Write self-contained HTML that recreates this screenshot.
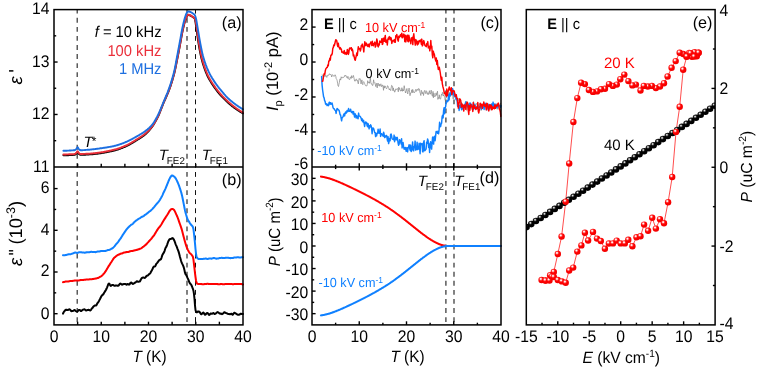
<!DOCTYPE html>
<html><head><meta charset="utf-8"><title>figure</title>
<style>html,body{margin:0;padding:0;background:#fff}svg{display:block;opacity:0.999;will-change:transform}</style>
</head><body>
<svg width="760" height="370" viewBox="0 0 760 370" text-rendering="geometricPrecision" font-family='"Liberation Sans", sans-serif'>
<rect width="760" height="370" fill="#fff"/>
<defs>
<radialGradient id="gr" cx="0.37" cy="0.33" r="0.68"><stop offset="0" stop-color="#ffffff"/><stop offset="0.13" stop-color="#ffe4e4"/><stop offset="0.32" stop-color="#ff4040"/><stop offset="0.52" stop-color="#ff0000"/><stop offset="1" stop-color="#f00000"/></radialGradient>
<radialGradient id="gk" cx="0.36" cy="0.32" r="0.68"><stop offset="0" stop-color="#ffffff"/><stop offset="0.1" stop-color="#d0d0d0"/><stop offset="0.27" stop-color="#3a3a3a"/><stop offset="0.45" stop-color="#000000"/><stop offset="1" stop-color="#000000"/></radialGradient>
</defs>
<line x1="77.20" y1="9.60" x2="77.20" y2="324.90" stroke="#333" stroke-width="1.20" stroke-dasharray="4.85 4.22" stroke-dashoffset="0.85"/>
<line x1="187.00" y1="9.60" x2="187.00" y2="324.90" stroke="#363636" stroke-width="1.25" stroke-dasharray="4.85 4.22" stroke-dashoffset="0.85"/>
<line x1="195.50" y1="9.60" x2="195.50" y2="324.90" stroke="#111" stroke-width="1.00" stroke-dasharray="4.85 4.22" stroke-dashoffset="0.85"/>
<line x1="445.90" y1="9.60" x2="445.90" y2="324.90" stroke="#383838" stroke-width="1.25" stroke-dasharray="4.85 4.22" stroke-dashoffset="0.85"/>
<line x1="454.00" y1="9.60" x2="454.00" y2="324.90" stroke="#383838" stroke-width="1.25" stroke-dasharray="4.85 4.22" stroke-dashoffset="0.85"/>
<path d="M63.4 155.3L63.9 155.3L64.4 155.3L64.9 155.3L65.4 155.3L65.9 155.3L66.4 155.2L66.9 155.2L67.4 155.2L67.9 155.2L68.4 155.2L68.9 155.1L69.4 155.1L69.9 155.1L70.4 155.1L70.9 155.1L71.4 155.0L71.9 155.0L72.4 155.0L72.9 155.0L73.4 154.9L73.9 154.9L74.4 154.8L74.9 154.7L75.4 154.4L75.9 154.0L76.4 153.6L76.9 153.0L77.4 152.1L77.9 152.3L78.4 153.3L78.9 153.9L79.4 154.3L79.9 154.6L80.4 154.8L80.9 154.8L81.4 154.8L81.9 154.8L82.4 154.8L82.9 154.8L83.4 154.7L83.9 154.7L84.4 154.7L84.9 154.7L85.4 154.7L85.9 154.6L86.4 154.6L86.9 154.6L87.4 154.6L87.9 154.5L88.4 154.5L88.9 154.5L89.4 154.4L89.9 154.4L90.4 154.4L90.9 154.3L91.4 154.3L91.9 154.3L92.4 154.2L92.9 154.2L93.4 154.1L93.9 154.1L94.4 154.0L94.9 154.0L95.4 153.9L95.9 153.8L96.4 153.8L96.9 153.7L97.4 153.7L97.9 153.6L98.4 153.5L98.9 153.5L99.4 153.4L99.9 153.3L100.4 153.2L100.9 153.2L101.4 153.1L101.9 153.0L102.4 152.9L102.9 152.9L103.4 152.8L103.9 152.7L104.4 152.6L104.9 152.5L105.4 152.4L105.9 152.3L106.4 152.2L106.9 152.1L107.4 152.1L107.9 151.9L108.4 151.8L108.9 151.7L109.4 151.6L109.9 151.5L110.4 151.4L110.9 151.3L111.4 151.2L111.9 151.1L112.4 151.0L112.9 150.8L113.4 150.7L113.9 150.6L114.4 150.5L114.9 150.3L115.4 150.2L115.9 150.1L116.4 149.9L116.9 149.8L117.4 149.6L117.9 149.5L118.4 149.3L118.9 149.1L119.4 148.9L119.9 148.8L120.4 148.6L120.9 148.4L121.4 148.2L121.9 148.0L122.4 147.8L122.9 147.6L123.4 147.4L123.9 147.2L124.4 147.0L124.9 146.8L125.4 146.6L125.9 146.3L126.4 146.1L126.9 145.9L127.4 145.6L127.9 145.4L128.4 145.1L128.9 144.9L129.4 144.6L129.9 144.3L130.4 144.1L130.9 143.8L131.4 143.5L131.9 143.2L132.4 142.9L132.9 142.6L133.4 142.3L133.9 142.0L134.4 141.7L134.9 141.4L135.4 141.0L135.9 140.7L136.4 140.4L136.9 140.1L137.4 139.8L137.9 139.5L138.4 139.2L138.9 138.9L139.4 138.6L139.9 138.3L140.4 137.9L140.9 137.6L141.4 137.3L141.9 136.9L142.4 136.6L142.9 136.2L143.4 135.9L143.9 135.5L144.4 135.1L144.9 134.7L145.4 134.3L145.9 133.8L146.4 133.4L146.9 132.9L147.4 132.4L147.9 131.9L148.4 131.3L148.9 130.8L149.4 130.2L149.9 129.6L150.4 129.0L150.9 128.4L151.4 127.7L151.9 127.1L152.4 126.4L152.9 125.6L153.4 124.9L153.9 124.1L154.4 123.3L154.9 122.4L155.4 121.5L155.9 120.6L156.4 119.7L156.9 118.8L157.4 117.8L157.9 116.8L158.4 115.8L158.9 114.6L159.4 113.5L159.9 112.2L160.4 111.0L160.9 109.7L161.4 108.4L161.9 107.1L162.4 105.8L162.9 104.5L163.4 103.3L163.9 102.2L164.4 101.0L164.9 99.9L165.4 98.8L165.9 97.6L166.4 96.5L166.9 95.4L167.4 94.2L167.9 93.0L168.4 91.8L168.9 90.5L169.4 89.2L169.9 87.8L170.4 86.4L170.9 84.9L171.4 83.3L171.9 81.7L172.4 80.1L172.9 78.3L173.4 76.5L173.9 74.7L174.4 72.7L174.9 70.6L175.4 68.3L175.9 65.8L176.4 63.3L176.9 60.8L177.4 58.3L177.9 55.8L178.4 53.2L178.9 50.6L179.4 48.0L179.9 45.3L180.4 42.6L180.9 39.8L181.4 37.0L181.9 34.3L182.4 31.8L182.9 29.5L183.4 27.3L183.9 25.2L184.4 23.3L184.9 21.6L185.4 20.0L185.9 18.6L186.4 17.4L186.9 16.5L187.4 15.7L187.9 15.2L188.4 15.0L188.9 15.1L189.4 15.2L189.9 15.4L190.4 15.6L190.9 15.8L191.4 16.1L191.9 16.5L192.4 16.8L192.9 17.2L193.4 17.5L193.9 17.8L194.4 18.3L194.9 19.1L195.4 21.7L195.9 25.1L196.4 28.5L196.9 32.0L197.4 35.6L197.9 39.2L198.4 42.6L198.9 45.6L199.4 48.5L199.9 51.2L200.4 53.7L200.9 56.1L201.4 58.2L201.9 60.1L202.4 62.0L202.9 63.7L203.4 65.3L203.9 66.8L204.4 68.2L204.9 69.6L205.4 71.0L205.9 72.3L206.4 73.5L206.9 74.7L207.4 75.8L207.9 76.8L208.4 77.8L208.9 78.7L209.4 79.6L209.9 80.5L210.4 81.3L210.9 82.1L211.4 82.9L211.9 83.7L212.4 84.5L212.9 85.2L213.4 85.9L213.9 86.7L214.4 87.4L214.9 88.1L215.4 88.8L215.9 89.5L216.4 90.1L216.9 90.8L217.4 91.4L217.9 92.1L218.4 92.7L218.9 93.3L219.4 93.9L219.9 94.5L220.4 95.0L220.9 95.6L221.4 96.1L221.9 96.7L222.4 97.2L222.9 97.7L223.4 98.2L223.9 98.7L224.4 99.2L224.9 99.7L225.4 100.2L225.9 100.7L226.4 101.2L226.9 101.6L227.4 102.1L227.9 102.5L228.4 103.0L228.9 103.4L229.4 103.9L229.9 104.3L230.4 104.7L230.9 105.1L231.4 105.5L231.9 106.0L232.4 106.4L232.9 106.7L233.4 107.1L233.9 107.5L234.4 107.9L234.9 108.2L235.4 108.6L235.9 109.0L236.4 109.3L236.9 109.6L237.4 110.0L237.9 110.3L238.4 110.6L238.9 111.0L239.4 111.3L239.9 111.6L240.4 111.9L240.9 112.2L241.4 112.5L241.9 112.8L242.4 113.1L242.9 113.3L243.0 113.4" fill="none" stroke="#000" stroke-width="1.90" stroke-linejoin="round" stroke-linecap="round" />
<path d="M63.4 154.5L63.9 154.5L64.4 154.5L64.9 154.5L65.4 154.5L65.9 154.5L66.4 154.4L66.9 154.4L67.4 154.4L67.9 154.4L68.4 154.4L68.9 154.3L69.4 154.3L69.9 154.3L70.4 154.3L70.9 154.3L71.4 154.2L71.9 154.2L72.4 154.2L72.9 154.2L73.4 154.1L73.9 154.1L74.4 154.0L74.9 153.9L75.4 153.6L75.9 153.2L76.4 152.8L76.9 152.2L77.4 151.3L77.9 151.5L78.4 152.5L78.9 153.1L79.4 153.5L79.9 153.8L80.4 154.0L80.9 154.0L81.4 154.0L81.9 154.0L82.4 154.0L82.9 154.0L83.4 153.9L83.9 153.9L84.4 153.9L84.9 153.9L85.4 153.9L85.9 153.8L86.4 153.8L86.9 153.8L87.4 153.8L87.9 153.7L88.4 153.7L88.9 153.7L89.4 153.6L89.9 153.6L90.4 153.6L90.9 153.5L91.4 153.5L91.9 153.5L92.4 153.4L92.9 153.4L93.4 153.3L93.9 153.3L94.4 153.2L94.9 153.2L95.4 153.1L95.9 153.0L96.4 153.0L96.9 152.9L97.4 152.9L97.9 152.8L98.4 152.7L98.9 152.7L99.4 152.6L99.9 152.5L100.4 152.4L100.9 152.4L101.4 152.3L101.9 152.2L102.4 152.1L102.9 152.1L103.4 152.0L103.9 151.9L104.4 151.8L104.9 151.7L105.4 151.6L105.9 151.5L106.4 151.4L106.9 151.3L107.4 151.3L107.9 151.1L108.4 151.0L108.9 150.9L109.4 150.8L109.9 150.7L110.4 150.6L110.9 150.5L111.4 150.4L111.9 150.3L112.4 150.2L112.9 150.0L113.4 149.9L113.9 149.8L114.4 149.7L114.9 149.5L115.4 149.4L115.9 149.3L116.4 149.1L116.9 149.0L117.4 148.8L117.9 148.7L118.4 148.5L118.9 148.3L119.4 148.1L119.9 148.0L120.4 147.8L120.9 147.6L121.4 147.4L121.9 147.2L122.4 147.0L122.9 146.8L123.4 146.6L123.9 146.4L124.4 146.2L124.9 146.0L125.4 145.8L125.9 145.5L126.4 145.3L126.9 145.1L127.4 144.8L127.9 144.6L128.4 144.3L128.9 144.1L129.4 143.8L129.9 143.5L130.4 143.3L130.9 143.0L131.4 142.7L131.9 142.4L132.4 142.1L132.9 141.8L133.4 141.5L133.9 141.2L134.4 140.9L134.9 140.6L135.4 140.2L135.9 139.9L136.4 139.6L136.9 139.3L137.4 139.0L137.9 138.7L138.4 138.4L138.9 138.1L139.4 137.8L139.9 137.4L140.4 137.1L140.9 136.8L141.4 136.5L141.9 136.1L142.4 135.8L142.9 135.4L143.4 135.0L143.9 134.7L144.4 134.3L144.9 133.9L145.4 133.5L145.9 133.1L146.4 132.6L146.9 132.2L147.4 131.7L147.9 131.2L148.4 130.8L148.9 130.3L149.4 129.7L149.9 129.2L150.4 128.6L150.9 128.0L151.4 127.4L151.9 126.8L152.4 126.1L152.9 125.4L153.4 124.6L153.9 123.8L154.4 123.0L154.9 122.2L155.4 121.3L155.9 120.4L156.4 119.4L156.9 118.5L157.4 117.5L157.9 116.5L158.4 115.5L158.9 114.3L159.4 113.2L159.9 111.9L160.4 110.7L160.9 109.4L161.4 108.1L161.9 106.8L162.4 105.5L162.9 104.2L163.4 103.0L163.9 101.9L164.4 100.7L164.9 99.6L165.4 98.5L165.9 97.3L166.4 96.2L166.9 95.1L167.4 93.9L167.9 92.7L168.4 91.5L168.9 90.2L169.4 88.9L169.9 87.5L170.4 86.1L170.9 84.6L171.4 83.0L171.9 81.4L172.4 79.8L172.9 78.0L173.4 76.2L173.9 74.4L174.4 72.4L174.9 70.3L175.4 68.0L175.9 65.5L176.4 63.0L176.9 60.5L177.4 58.0L177.9 55.5L178.4 52.9L178.9 50.3L179.4 47.7L179.9 45.0L180.4 42.3L180.9 39.5L181.4 36.7L181.9 34.0L182.4 31.5L182.9 29.2L183.4 27.0L183.9 24.9L184.4 23.0L184.9 21.3L185.4 19.7L185.9 18.3L186.4 17.1L186.9 16.2L187.4 15.4L187.9 14.9L188.4 14.7L188.9 14.8L189.4 14.9L189.9 15.1L190.4 15.3L190.9 15.5L191.4 15.8L191.9 16.2L192.4 16.5L192.9 16.9L193.4 17.2L193.9 17.6L194.4 18.1L194.9 18.8L195.4 20.2L195.9 22.5L196.4 25.4L196.9 29.1L197.4 32.6L197.9 36.2L198.4 39.8L198.9 43.0L199.4 45.9L199.9 48.8L200.4 51.4L200.9 53.9L201.4 56.2L201.9 58.2L202.4 60.1L202.9 61.9L203.4 63.5L203.9 65.1L204.4 66.6L204.9 68.0L205.4 69.4L205.9 70.7L206.4 72.0L206.9 73.2L207.4 74.3L207.9 75.4L208.4 76.4L208.9 77.4L209.4 78.3L209.9 79.2L210.4 80.0L210.9 80.9L211.4 81.7L211.9 82.5L212.4 83.2L212.9 84.0L213.4 84.7L213.9 85.4L214.4 86.1L214.9 86.9L215.4 87.6L215.9 88.3L216.4 88.9L216.9 89.6L217.4 90.2L217.9 90.9L218.4 91.5L218.9 92.1L219.4 92.7L219.9 93.3L220.4 93.9L220.9 94.5L221.4 95.0L221.9 95.5L222.4 96.1L222.9 96.6L223.4 97.1L223.9 97.6L224.4 98.1L224.9 98.6L225.4 99.1L225.9 99.6L226.4 100.1L226.9 100.5L227.4 101.0L227.9 101.5L228.4 101.9L228.9 102.3L229.4 102.8L229.9 103.2L230.4 103.6L230.9 104.1L231.4 104.5L231.9 104.9L232.4 105.3L232.9 105.7L233.4 106.1L233.9 106.5L234.4 106.9L234.9 107.2L235.4 107.6L235.9 108.0L236.4 108.3L236.9 108.7L237.4 109.0L237.9 109.4L238.4 109.7L238.9 110.0L239.4 110.4L239.9 110.7L240.4 111.0L240.9 111.3L241.4 111.6L241.9 112.0L242.4 112.2L242.9 112.5L243.0 112.6" fill="none" stroke="#ea2f3a" stroke-width="1.90" stroke-linejoin="round" stroke-linecap="round" />
<path d="M63.4 150.8L63.9 150.8L64.4 150.8L64.9 150.7L65.4 150.7L65.9 150.7L66.4 150.7L66.9 150.7L67.4 150.6L67.9 150.6L68.4 150.6L68.9 150.6L69.4 150.5L69.9 150.5L70.4 150.5L70.9 150.5L71.4 150.4L71.9 150.4L72.4 150.4L72.9 150.4L73.4 150.3L73.9 150.3L74.4 150.2L74.9 150.1L75.4 149.8L75.9 149.3L76.4 148.8L76.9 148.1L77.4 147.3L77.9 147.5L78.4 148.5L78.9 149.1L79.4 149.6L79.9 150.0L80.4 150.2L80.9 150.2L81.4 150.2L81.9 150.2L82.4 150.2L82.9 150.1L83.4 150.1L83.9 150.1L84.4 150.1L84.9 150.0L85.4 150.0L85.9 149.9L86.4 149.9L86.9 149.9L87.4 149.8L87.9 149.8L88.4 149.7L88.9 149.7L89.4 149.7L89.9 149.6L90.4 149.6L90.9 149.5L91.4 149.5L91.9 149.4L92.4 149.4L92.9 149.3L93.4 149.3L93.9 149.2L94.4 149.1L94.9 149.1L95.4 149.0L95.9 149.0L96.4 148.9L96.9 148.8L97.4 148.8L97.9 148.7L98.4 148.6L98.9 148.6L99.4 148.5L99.9 148.4L100.4 148.3L100.9 148.3L101.4 148.2L101.9 148.1L102.4 148.1L102.9 148.0L103.4 147.9L103.9 147.8L104.4 147.8L104.9 147.7L105.4 147.6L105.9 147.5L106.4 147.5L106.9 147.4L107.4 147.3L107.9 147.2L108.4 147.1L108.9 147.0L109.4 146.9L109.9 146.9L110.4 146.8L110.9 146.7L111.4 146.6L111.9 146.5L112.4 146.4L112.9 146.3L113.4 146.2L113.9 146.1L114.4 145.9L114.9 145.8L115.4 145.7L115.9 145.6L116.4 145.4L116.9 145.3L117.4 145.2L117.9 145.0L118.4 144.9L118.9 144.7L119.4 144.5L119.9 144.4L120.4 144.2L120.9 144.0L121.4 143.8L121.9 143.6L122.4 143.4L122.9 143.3L123.4 143.1L123.9 142.9L124.4 142.7L124.9 142.5L125.4 142.2L125.9 142.0L126.4 141.8L126.9 141.6L127.4 141.4L127.9 141.2L128.4 140.9L128.9 140.7L129.4 140.4L129.9 140.2L130.4 139.9L130.9 139.7L131.4 139.4L131.9 139.1L132.4 138.9L132.9 138.6L133.4 138.3L133.9 138.0L134.4 137.7L134.9 137.5L135.4 137.2L135.9 136.9L136.4 136.6L136.9 136.3L137.4 136.0L137.9 135.8L138.4 135.5L138.9 135.2L139.4 134.9L139.9 134.6L140.4 134.3L140.9 134.0L141.4 133.7L141.9 133.4L142.4 133.1L142.9 132.8L143.4 132.4L143.9 132.1L144.4 131.7L144.9 131.4L145.4 131.0L145.9 130.6L146.4 130.2L146.9 129.9L147.4 129.5L147.9 129.0L148.4 128.6L148.9 128.2L149.4 127.7L149.9 127.2L150.4 126.7L150.9 126.2L151.4 125.6L151.9 125.0L152.4 124.4L152.9 123.7L153.4 123.0L153.9 122.2L154.4 121.5L154.9 120.6L155.4 119.8L155.9 118.9L156.4 118.0L156.9 117.1L157.4 116.1L157.9 115.2L158.4 114.2L158.9 113.2L159.4 112.0L159.9 110.9L160.4 109.7L160.9 108.5L161.4 107.2L161.9 106.0L162.4 104.8L162.9 103.5L163.4 102.3L163.9 101.2L164.4 100.0L164.9 98.8L165.4 97.6L165.9 96.4L166.4 95.2L166.9 94.0L167.4 92.8L167.9 91.5L168.4 90.2L168.9 88.8L169.4 87.4L169.9 86.0L170.4 84.5L170.9 83.0L171.4 81.4L171.9 79.8L172.4 78.1L172.9 76.3L173.4 74.4L173.9 72.5L174.4 70.4L174.9 68.2L175.4 65.6L175.9 62.9L176.4 60.2L176.9 57.5L177.4 54.8L177.9 52.2L178.4 49.5L178.9 46.9L179.4 44.2L179.9 41.5L180.4 38.8L180.9 36.0L181.4 33.2L181.9 30.5L182.4 28.0L182.9 25.7L183.4 23.5L183.9 21.4L184.4 19.5L184.9 17.8L185.4 16.2L185.9 14.7L186.4 13.5L186.9 12.7L187.4 12.0L187.9 11.5L188.4 11.4L188.9 11.5L189.4 11.6L189.9 11.8L190.4 12.0L190.9 12.2L191.4 12.5L191.9 12.8L192.4 13.1L192.9 13.5L193.4 13.8L193.9 14.2L194.4 14.7L194.9 15.3L195.4 16.5L195.9 18.3L196.4 20.4L196.9 23.3L197.4 26.4L197.9 29.4L198.4 32.4L198.9 35.4L199.4 38.3L199.9 41.1L200.4 43.8L200.9 46.4L201.4 49.0L201.9 51.4L202.4 53.6L202.9 55.6L203.4 57.4L203.9 59.1L204.4 60.7L204.9 62.2L205.4 63.6L205.9 65.0L206.4 66.3L206.9 67.6L207.4 68.8L207.9 70.0L208.4 71.1L208.9 72.2L209.4 73.2L209.9 74.2L210.4 75.1L210.9 76.0L211.4 76.8L211.9 77.7L212.4 78.5L212.9 79.3L213.4 80.1L213.9 80.9L214.4 81.6L214.9 82.4L215.4 83.1L215.9 83.8L216.4 84.5L216.9 85.2L217.4 85.8L217.9 86.5L218.4 87.1L218.9 87.8L219.4 88.4L219.9 89.0L220.4 89.6L220.9 90.2L221.4 90.8L221.9 91.4L222.4 92.0L222.9 92.6L223.4 93.2L223.9 93.8L224.4 94.4L224.9 94.9L225.4 95.5L225.9 96.1L226.4 96.6L226.9 97.1L227.4 97.6L227.9 98.1L228.4 98.6L228.9 99.0L229.4 99.5L229.9 99.9L230.4 100.3L230.9 100.8L231.4 101.2L231.9 101.6L232.4 102.0L232.9 102.4L233.4 102.8L233.9 103.2L234.4 103.6L234.9 103.9L235.4 104.3L235.9 104.7L236.4 105.0L236.9 105.4L237.4 105.7L237.9 106.1L238.4 106.4L238.9 106.8L239.4 107.1L239.9 107.4L240.4 107.7L240.9 108.0L241.4 108.4L241.9 108.7L242.4 109.0L242.9 109.2L243.0 109.3" fill="none" stroke="#1d6fe0" stroke-width="1.90" stroke-linejoin="round" stroke-linecap="round" />
<path d="M63.0 313.7L63.5 312.5L64.0 311.7L64.5 311.1L65.0 310.5L65.5 310.0L66.0 309.8L66.5 309.8L67.0 310.0L67.5 310.1L68.0 310.0L68.5 309.6L69.0 309.4L69.5 309.3L70.0 309.6L70.5 310.2L71.0 310.9L71.5 311.2L72.0 311.0L72.5 310.9L73.0 310.9L73.5 310.6L74.0 310.2L74.5 310.1L75.0 310.2L75.5 310.7L76.0 311.1L76.5 311.4L77.0 311.5L77.5 311.4L78.0 310.8L78.5 310.1L79.0 309.9L79.5 309.9L80.0 310.2L80.5 310.7L81.0 311.1L81.5 310.8L82.0 310.4L82.5 310.0L83.0 309.7L83.5 309.6L84.0 309.4L84.5 309.3L85.0 309.6L85.5 310.1L86.0 310.5L86.5 310.4L87.0 310.2L87.5 310.1L88.0 309.9L88.5 309.8L89.0 309.9L89.5 310.2L90.0 310.4L90.5 310.4L91.0 309.8L91.5 308.9L92.0 308.3L92.5 307.9L93.0 307.1L93.5 306.5L94.0 306.1L94.5 305.6L95.0 305.4L95.5 305.5L96.0 305.5L96.5 305.0L97.0 304.0L97.5 303.1L98.0 302.5L98.5 301.8L99.0 300.9L99.5 299.9L100.0 299.0L100.5 298.0L101.0 297.0L101.5 296.1L102.0 295.4L102.5 295.0L103.0 294.6L103.5 294.0L104.0 293.1L104.5 292.2L105.0 291.4L105.5 290.7L106.0 289.8L106.5 288.8L107.0 287.6L107.5 286.3L108.0 285.0L108.5 283.9L109.0 283.5L109.5 283.9L110.0 284.9L110.5 285.8L111.0 285.9L111.5 285.4L112.0 285.1L112.5 285.0L113.0 284.9L113.5 285.1L114.0 285.6L114.5 285.8L115.0 285.7L115.5 285.5L116.0 285.5L116.5 285.4L117.0 285.5L117.5 285.7L118.0 285.8L118.5 285.6L119.0 285.0L119.5 284.3L120.0 283.8L120.5 283.6L121.0 283.9L121.5 284.4L122.0 284.7L122.5 284.6L123.0 284.3L123.5 284.1L124.0 284.1L124.5 284.1L125.0 284.0L125.5 284.0L126.0 284.4L126.5 284.7L127.0 284.5L127.5 284.1L128.0 284.1L128.5 284.4L129.0 284.7L129.5 284.4L130.0 283.6L130.5 282.8L131.0 282.5L131.5 282.7L132.0 283.3L132.5 283.8L133.0 283.9L133.5 283.7L134.0 283.3L134.5 283.0L135.0 282.8L135.5 282.4L136.0 282.0L136.5 281.5L137.0 281.2L137.5 281.5L138.0 281.8L138.5 281.8L139.0 281.6L139.5 281.6L140.0 281.3L140.5 280.3L141.0 279.3L141.5 278.5L142.0 277.9L142.5 277.7L143.0 277.6L143.5 277.6L144.0 277.7L144.5 277.9L145.0 277.9L145.5 277.4L146.0 276.6L146.5 276.0L147.0 275.8L147.5 275.6L148.0 275.3L148.5 274.8L149.0 274.3L149.5 273.9L150.0 273.5L150.5 272.8L151.0 271.8L151.5 270.9L152.0 270.0L152.5 269.0L153.0 267.8L153.5 266.9L154.0 266.4L154.5 266.5L155.0 266.5L155.5 265.7L156.0 264.5L156.5 263.6L157.0 263.1L157.5 262.5L158.0 261.8L158.5 261.1L159.0 260.4L159.5 259.9L160.0 259.7L160.5 259.5L161.0 259.0L161.5 257.8L162.0 256.1L162.5 254.7L163.0 253.9L163.5 253.2L164.0 252.3L164.5 251.1L165.0 249.5L165.5 248.0L166.0 247.2L166.5 246.4L167.0 245.1L167.5 243.7L168.0 242.2L168.5 241.0L169.0 240.1L169.5 239.4L170.0 239.0L170.5 239.0L171.0 239.0L171.5 238.7L172.0 238.3L172.5 238.1L173.0 238.4L173.5 239.1L174.0 239.9L174.5 241.0L175.0 242.3L175.5 243.9L176.0 245.1L176.5 246.2L177.0 247.4L177.5 248.8L178.0 250.1L178.5 251.4L179.0 253.1L179.5 255.1L180.0 257.0L180.5 258.7L181.0 260.5L181.5 262.1L182.0 263.4L182.5 264.4L183.0 265.4L183.5 266.6L184.0 268.2L184.5 270.4L185.0 272.7L185.5 274.1L186.0 274.7L186.5 275.6L187.0 276.7L187.5 277.9L188.0 278.9L188.5 280.0L189.0 281.3L189.5 282.6L190.0 283.5L190.5 283.9L191.0 284.4L191.5 285.3L192.0 286.5L192.5 287.8L193.0 289.1L193.5 290.9L194.0 294.1L194.5 299.0L195.0 305.5L195.5 310.0L196.0 311.7L196.5 312.3L197.0 312.2L197.5 311.7L198.0 311.5L198.5 311.7L199.0 311.6L199.5 311.8L200.0 312.5L200.5 313.5L201.0 314.2L201.5 314.2L202.0 313.8L202.5 313.3L203.0 312.7L203.5 312.6L204.0 313.3L204.5 314.3L205.0 314.8L205.5 314.6L206.0 314.0L206.5 313.4L207.0 313.0L207.5 313.0L208.0 313.5L208.5 314.3L209.0 314.9L209.5 314.8L210.0 314.2L210.5 313.6L211.0 313.5L211.5 313.7L212.0 313.8L212.5 313.5L213.0 313.2L213.5 313.1L214.0 313.5L214.5 314.0L215.0 314.0L215.5 313.7L216.0 313.4L216.5 312.9L217.0 312.4L217.5 312.1L218.0 312.3L218.5 312.7L219.0 313.0L219.5 313.4L220.0 313.7L220.5 313.6L221.0 313.5L221.5 313.9L222.0 314.2L222.5 313.9L223.0 313.5L223.5 313.1L224.0 312.4L224.5 312.2L225.0 312.4L225.5 312.9L226.0 313.1L226.5 313.2L227.0 313.4L227.5 313.7L228.0 313.9L228.5 314.1L229.0 314.1L229.5 314.1L230.0 314.3L230.5 314.1L231.0 313.7L231.5 313.8L232.0 314.3L232.5 314.8L233.0 314.6L233.5 313.7L234.0 313.0L234.5 312.8L235.0 313.0L235.5 313.3L236.0 313.6L236.5 314.0L237.0 314.3L237.5 314.5L238.0 314.7L238.5 314.7L239.0 314.7L239.5 314.6L240.0 314.2L240.5 313.8L241.0 313.7L241.5 313.9L242.0 314.0L242.5 314.0L243.0 313.9" fill="none" stroke="#000" stroke-width="2.00" stroke-linejoin="round" stroke-linecap="round" />
<path d="M63.0 282.2L63.5 282.1L64.0 282.0L64.5 281.9L65.0 281.7L65.5 281.6L66.0 281.5L66.5 281.4L67.0 281.4L67.5 281.4L68.0 281.4L68.5 281.4L69.0 281.3L69.5 281.2L70.0 281.1L70.5 281.1L71.0 281.1L71.5 281.1L72.0 281.0L72.5 280.9L73.0 280.8L73.5 280.7L74.0 280.7L74.5 280.6L75.0 280.6L75.5 280.6L76.0 280.6L76.5 280.6L77.0 280.5L77.5 280.4L78.0 280.4L78.5 280.4L79.0 280.4L79.5 280.3L80.0 280.2L80.5 280.1L81.0 280.0L81.5 280.0L82.0 280.0L82.5 280.0L83.0 280.0L83.5 279.9L84.0 279.8L84.5 279.8L85.0 279.7L85.5 279.7L86.0 279.6L86.5 279.6L87.0 279.5L87.5 279.5L88.0 279.4L88.5 279.4L89.0 279.4L89.5 279.3L90.0 279.3L90.5 279.2L91.0 279.2L91.5 279.2L92.0 279.2L92.5 279.1L93.0 279.1L93.5 278.9L94.0 278.8L94.5 278.8L95.0 278.7L95.5 278.6L96.0 278.5L96.5 278.4L97.0 278.2L97.5 278.1L98.0 278.0L98.5 277.8L99.0 277.5L99.5 277.2L100.0 276.9L100.5 276.6L101.0 276.3L101.5 276.0L102.0 275.6L102.5 275.1L103.0 274.6L103.5 274.0L104.0 273.4L104.5 272.8L105.0 272.1L105.5 271.4L106.0 270.6L106.5 269.8L107.0 268.9L107.5 268.1L108.0 267.2L108.5 266.4L109.0 265.6L109.5 264.9L110.0 264.1L110.5 263.3L111.0 262.5L111.5 261.8L112.0 261.0L112.5 260.2L113.0 259.3L113.5 258.6L114.0 258.0L114.5 257.5L115.0 257.2L115.5 256.7L116.0 256.3L116.5 255.9L117.0 255.5L117.5 255.2L118.0 254.9L118.5 254.7L119.0 254.5L119.5 254.3L120.0 254.0L120.5 253.8L121.0 253.6L121.5 253.5L122.0 253.4L122.5 253.3L123.0 253.0L123.5 252.7L124.0 252.6L124.5 252.5L125.0 252.4L125.5 252.3L126.0 252.2L126.5 252.0L127.0 252.0L127.5 252.0L128.0 252.0L128.5 251.9L129.0 251.7L129.5 251.5L130.0 251.3L130.5 251.2L131.0 251.1L131.5 251.0L132.0 250.9L132.5 250.9L133.0 250.8L133.5 250.7L134.0 250.5L134.5 250.4L135.0 250.2L135.5 250.2L136.0 250.1L136.5 250.0L137.0 249.8L137.5 249.7L138.0 249.5L138.5 249.3L139.0 249.2L139.5 249.0L140.0 248.8L140.5 248.6L141.0 248.4L141.5 248.1L142.0 247.7L142.5 247.3L143.0 246.9L143.5 246.6L144.0 246.2L144.5 245.8L145.0 245.4L145.5 245.0L146.0 244.6L146.5 244.0L147.0 243.5L147.5 242.9L148.0 242.4L148.5 241.8L149.0 241.3L149.5 240.8L150.0 240.2L150.5 239.6L151.0 239.1L151.5 238.5L152.0 237.9L152.5 237.2L153.0 236.6L153.5 236.0L154.0 235.3L154.5 234.6L155.0 233.7L155.5 232.9L156.0 232.0L156.5 231.2L157.0 230.4L157.5 229.6L158.0 228.9L158.5 228.2L159.0 227.6L159.5 227.0L160.0 226.4L160.5 225.7L161.0 225.0L161.5 224.2L162.0 223.3L162.5 222.4L163.0 221.5L163.5 220.7L164.0 219.9L164.5 219.2L165.0 218.4L165.5 217.6L166.0 216.8L166.5 216.0L167.0 215.3L167.5 214.5L168.0 213.7L168.5 212.9L169.0 211.9L169.5 211.1L170.0 210.4L170.5 209.8L171.0 209.4L171.5 209.1L172.0 208.9L172.5 208.9L173.0 209.2L173.5 209.5L174.0 209.9L174.5 210.6L175.0 211.6L175.5 212.7L176.0 213.8L176.5 214.9L177.0 216.0L177.5 217.2L178.0 218.5L178.5 219.9L179.0 221.4L179.5 222.8L180.0 224.3L180.5 225.7L181.0 227.1L181.5 228.6L182.0 230.3L182.5 232.2L183.0 234.2L183.5 236.2L184.0 238.1L184.5 240.0L185.0 241.8L185.5 243.5L186.0 245.1L186.5 246.6L187.0 247.9L187.5 249.0L188.0 250.1L188.5 251.1L189.0 252.0L189.5 252.7L190.0 253.2L190.5 253.6L191.0 254.1L191.5 254.7L192.0 255.3L192.5 256.0L193.0 257.1L193.5 259.9L194.0 264.4L194.5 268.6L195.0 273.1L195.5 277.0L196.0 280.5L196.5 282.5L197.0 283.5L197.5 283.7L198.0 283.9L198.5 284.0L199.0 284.0L199.5 284.0L200.0 284.0L200.5 284.0L201.0 284.0L201.5 284.1L202.0 284.2L202.5 284.3L203.0 284.3L203.5 284.3L204.0 284.2L204.5 284.1L205.0 284.0L205.5 284.0L206.0 283.9L206.5 283.9L207.0 283.8L207.5 283.8L208.0 283.8L208.5 283.9L209.0 283.9L209.5 284.0L210.0 284.0L210.5 284.0L211.0 284.0L211.5 284.0L212.0 283.9L212.5 283.9L213.0 283.9L213.5 284.0L214.0 284.0L214.5 283.9L215.0 283.9L215.5 283.9L216.0 283.9L216.5 283.9L217.0 283.9L217.5 284.0L218.0 284.2L218.5 284.2L219.0 284.2L219.5 284.2L220.0 284.2L220.5 284.1L221.0 284.1L221.5 284.1L222.0 284.1L222.5 284.2L223.0 284.2L223.5 284.3L224.0 284.3L224.5 284.2L225.0 284.1L225.5 284.0L226.0 284.0L226.5 284.0L227.0 284.1L227.5 284.0L228.0 284.0L228.5 283.9L229.0 283.9L229.5 283.9L230.0 283.9L230.5 283.9L231.0 283.9L231.5 283.9L232.0 284.1L232.5 284.2L233.0 284.3L233.5 284.2L234.0 284.1L234.5 283.9L235.0 283.9L235.5 283.9L236.0 283.9L236.5 283.9L237.0 283.9L237.5 283.9L238.0 284.0L238.5 284.0L239.0 284.1L239.5 284.1L240.0 284.1L240.5 284.0L241.0 284.0L241.5 284.1L242.0 284.2L242.5 284.4L243.0 284.5" fill="none" stroke="#ff0000" stroke-width="2.00" stroke-linejoin="round" stroke-linecap="round" />
<path d="M63.0 255.3L63.5 255.2L64.0 255.2L64.5 255.2L65.0 255.2L65.5 255.1L66.0 255.0L66.5 254.9L67.0 254.7L67.5 254.6L68.0 254.4L68.5 254.3L69.0 254.2L69.5 254.2L70.0 254.3L70.5 254.3L71.0 254.1L71.5 253.9L72.0 253.7L72.5 253.6L73.0 253.4L73.5 253.2L74.0 253.0L74.5 252.7L75.0 252.6L75.5 252.6L76.0 252.7L76.5 252.8L77.0 252.9L77.5 252.9L78.0 252.7L78.5 252.4L79.0 252.3L79.5 252.3L80.0 252.3L80.5 252.3L81.0 252.3L81.5 252.3L82.0 252.4L82.5 252.5L83.0 252.6L83.5 252.6L84.0 252.6L84.5 252.7L85.0 252.7L85.5 252.6L86.0 252.5L86.5 252.3L87.0 252.2L87.5 252.2L88.0 252.2L88.5 252.2L89.0 252.2L89.5 252.2L90.0 252.1L90.5 251.9L91.0 251.8L91.5 251.8L92.0 251.9L92.5 251.9L93.0 251.9L93.5 251.9L94.0 251.9L94.5 252.0L95.0 252.1L95.5 252.2L96.0 252.1L96.5 251.9L97.0 251.7L97.5 251.6L98.0 251.6L98.5 251.5L99.0 251.5L99.5 251.4L100.0 251.3L100.5 251.2L101.0 251.0L101.5 250.9L102.0 251.0L102.5 251.0L103.0 251.1L103.5 251.0L104.0 251.0L104.5 251.0L105.0 251.0L105.5 251.0L106.0 250.8L106.5 250.6L107.0 250.4L107.5 250.2L108.0 250.0L108.5 249.9L109.0 249.9L109.5 249.8L110.0 249.6L110.5 249.3L111.0 249.0L111.5 248.7L112.0 248.5L112.5 248.3L113.0 247.9L113.5 247.4L114.0 246.9L114.5 246.4L115.0 245.7L115.5 245.0L116.0 244.3L116.5 243.7L117.0 243.2L117.5 242.7L118.0 242.1L118.5 241.4L119.0 240.6L119.5 239.9L120.0 239.2L120.5 238.6L121.0 237.9L121.5 237.0L122.0 236.2L122.5 235.4L123.0 234.5L123.5 233.8L124.0 233.1L124.5 232.4L125.0 231.7L125.5 230.9L126.0 230.2L126.5 229.5L127.0 228.9L127.5 228.3L128.0 227.8L128.5 227.3L129.0 226.8L129.5 226.3L130.0 225.9L130.5 225.4L131.0 224.9L131.5 224.6L132.0 224.4L132.5 224.1L133.0 223.6L133.5 223.0L134.0 222.4L134.5 221.9L135.0 221.5L135.5 221.0L136.0 220.6L136.5 220.3L137.0 220.0L137.5 219.7L138.0 219.3L138.5 218.9L139.0 218.6L139.5 218.4L140.0 218.1L140.5 217.7L141.0 217.3L141.5 217.0L142.0 216.8L142.5 216.7L143.0 216.4L143.5 216.1L144.0 215.8L144.5 215.3L145.0 214.9L145.5 214.6L146.0 214.3L146.5 213.9L147.0 213.5L147.5 213.1L148.0 212.7L148.5 212.3L149.0 211.9L149.5 211.4L150.0 211.1L150.5 210.8L151.0 210.4L151.5 209.9L152.0 209.4L152.5 208.9L153.0 208.3L153.5 207.8L154.0 207.2L154.5 206.6L155.0 205.9L155.5 205.3L156.0 204.7L156.5 204.1L157.0 203.5L157.5 203.0L158.0 202.4L158.5 201.9L159.0 201.2L159.5 200.5L160.0 199.7L160.5 198.8L161.0 198.0L161.5 197.1L162.0 196.2L162.5 195.1L163.0 193.9L163.5 192.7L164.0 191.7L164.5 190.8L165.0 189.7L165.5 188.6L166.0 187.4L166.5 186.2L167.0 185.0L167.5 183.7L168.0 182.5L168.5 181.2L169.0 180.0L169.5 178.9L170.0 177.9L170.5 177.1L171.0 176.3L171.5 175.7L172.0 175.5L172.5 175.6L173.0 175.8L173.5 176.2L174.0 176.5L174.5 176.9L175.0 177.4L175.5 178.2L176.0 178.9L176.5 179.9L177.0 180.9L177.5 182.0L178.0 183.2L178.5 184.4L179.0 185.7L179.5 187.1L180.0 188.6L180.5 190.1L181.0 191.7L181.5 193.4L182.0 195.4L182.5 197.8L183.0 200.3L183.5 202.9L184.0 205.4L184.5 208.0L185.0 210.4L185.5 212.4L186.0 214.3L186.5 216.0L187.0 217.6L187.5 218.9L188.0 219.9L188.5 220.8L189.0 221.6L189.5 222.4L190.0 223.3L190.5 224.0L191.0 224.6L191.5 225.3L192.0 225.8L192.5 226.3L193.0 227.2L193.5 229.5L194.0 233.8L194.5 238.3L195.0 243.3L195.5 249.0L196.0 253.5L196.5 256.6L197.0 257.6L197.5 258.3L198.0 258.7L198.5 259.0L199.0 259.1L199.5 259.1L200.0 259.0L200.5 258.9L201.0 258.9L201.5 259.0L202.0 259.0L202.5 259.0L203.0 258.9L203.5 258.8L204.0 258.8L204.5 258.8L205.0 258.7L205.5 258.6L206.0 258.6L206.5 258.7L207.0 258.9L207.5 259.0L208.0 258.9L208.5 258.7L209.0 258.6L209.5 258.6L210.0 258.6L210.5 258.6L211.0 258.6L211.5 258.7L212.0 258.6L212.5 258.4L213.0 258.2L213.5 258.0L214.0 258.0L214.5 258.1L215.0 258.3L215.5 258.4L216.0 258.6L216.5 258.7L217.0 258.6L217.5 258.5L218.0 258.5L218.5 258.4L219.0 258.2L219.5 258.1L220.0 258.0L220.5 257.9L221.0 257.9L221.5 257.8L222.0 257.8L222.5 257.9L223.0 258.0L223.5 258.1L224.0 258.1L224.5 258.1L225.0 257.9L225.5 257.8L226.0 257.8L226.5 257.8L227.0 257.8L227.5 257.8L228.0 257.8L228.5 257.8L229.0 257.9L229.5 258.0L230.0 258.1L230.5 258.2L231.0 258.1L231.5 258.1L232.0 258.1L232.5 258.1L233.0 258.0L233.5 257.8L234.0 257.6L234.5 257.5L235.0 257.5L235.5 257.5L236.0 257.5L236.5 257.4L237.0 257.3L237.5 257.2L238.0 257.2L238.5 257.3L239.0 257.4L239.5 257.5L240.0 257.5L240.5 257.5L241.0 257.4L241.5 257.3L242.0 257.3L242.5 257.2L243.0 257.2" fill="none" stroke="#0f80ff" stroke-width="2.00" stroke-linejoin="round" stroke-linecap="round" />
<path d="M322.3 74.8L322.8 76.2L323.2 77.1L323.6 76.3L324.1 74.3L324.5 74.7L325.0 76.7L325.4 75.6L325.9 75.2L326.3 76.2L326.8 77.4L327.2 76.3L327.7 75.2L328.1 75.2L328.6 75.3L329.0 74.2L329.5 73.8L329.9 74.6L330.4 74.0L330.8 74.8L331.3 75.3L331.7 77.0L332.2 74.6L332.6 75.0L333.1 75.2L333.5 75.9L334.0 76.5L334.4 75.3L334.9 75.0L335.3 74.9L335.8 76.3L336.2 78.6L336.7 79.3L337.1 80.3L337.6 83.2L338.0 85.7L338.5 86.5L338.9 84.4L339.4 82.3L339.8 79.1L340.3 78.8L340.7 80.1L341.2 76.8L341.6 77.8L342.1 78.2L342.5 77.5L343.0 76.9L343.4 77.4L343.9 77.3L344.3 76.9L344.8 75.4L345.2 76.1L345.7 75.3L346.1 75.8L346.6 77.2L347.0 78.0L347.5 78.2L347.9 76.3L348.4 78.4L348.8 79.2L349.3 79.4L349.7 79.6L350.2 77.2L350.6 77.2L351.1 78.5L351.5 75.7L352.0 77.8L352.4 77.2L352.9 77.2L353.3 75.4L353.8 77.0L354.2 79.1L354.7 81.0L355.1 81.4L355.6 79.8L356.0 79.5L356.5 78.9L356.9 80.8L357.4 80.3L357.8 82.0L358.3 83.9L358.7 81.0L359.2 78.5L359.6 79.3L360.1 78.7L360.5 79.7L361.0 83.9L361.4 82.4L361.9 79.9L362.3 83.5L362.8 84.7L363.2 82.3L363.7 81.6L364.1 82.3L364.6 83.6L365.0 84.6L365.5 85.6L365.9 85.8L366.4 85.9L366.8 86.0L367.3 84.3L367.7 80.7L368.2 82.4L368.6 83.1L369.1 82.0L369.5 83.3L370.0 80.0L370.4 78.2L370.9 82.9L371.3 83.9L371.8 83.8L372.2 85.2L372.7 85.6L373.1 84.0L373.6 79.8L374.0 82.3L374.5 83.1L374.9 82.7L375.4 84.9L375.8 86.6L376.3 83.9L376.7 83.3L377.2 87.9L377.6 84.4L378.1 83.0L378.5 85.3L379.0 85.8L379.4 84.3L379.9 86.3L380.3 84.5L380.8 83.8L381.2 85.7L381.7 86.7L382.1 84.8L382.6 86.0L383.0 86.2L383.5 90.3L383.9 85.6L384.4 88.1L384.8 86.2L385.3 86.1L385.7 87.6L386.2 88.3L386.6 88.9L387.1 87.3L387.5 85.7L388.0 86.0L388.4 87.9L388.9 88.6L389.3 89.9L389.8 88.8L390.2 89.9L390.7 90.6L391.1 88.3L391.6 85.4L392.0 85.6L392.5 86.1L392.9 90.7L393.4 87.9L393.8 90.8L394.3 90.5L394.7 92.2L395.2 91.1L395.6 89.1L396.1 88.8L396.5 89.4L397.0 89.5L397.4 88.5L397.9 89.6L398.3 91.8L398.8 87.1L399.2 89.5L399.7 88.3L400.1 90.0L400.6 91.2L401.0 90.1L401.5 90.8L401.9 87.7L402.4 91.3L402.8 89.4L403.3 91.0L403.7 90.0L404.2 85.7L404.6 88.4L405.1 90.8L405.5 93.0L406.0 91.2L406.4 90.6L406.9 88.5L407.3 93.0L407.8 93.9L408.2 91.0L408.7 89.9L409.1 88.1L409.6 92.5L410.0 95.7L410.5 93.0L410.9 93.3L411.4 92.0L411.8 89.8L412.3 92.8L412.7 89.4L413.2 90.7L413.6 91.9L414.1 93.0L414.5 92.4L415.0 92.1L415.4 90.1L415.9 89.3L416.3 91.4L416.8 90.3L417.2 89.2L417.7 89.4L418.1 90.5L418.6 88.5L419.0 89.1L419.5 89.2L419.9 92.3L420.4 93.5L420.8 95.5L421.3 90.3L421.7 91.3L422.2 93.9L422.6 92.4L423.1 92.5L423.5 95.5L424.0 92.4L424.4 90.6L424.9 90.6L425.3 93.4L425.8 93.4L426.2 90.7L426.7 91.4L427.1 94.1L427.6 94.3L428.0 92.6L428.5 94.5L428.9 94.2L429.4 90.7L429.8 92.8L430.3 94.2L430.7 92.4L431.2 90.1L431.6 93.1L432.1 95.5L432.5 96.3L433.0 91.4L433.4 97.8L433.9 93.2L434.3 95.9L434.8 96.9L435.2 96.4L435.7 94.8L436.1 92.9L436.6 95.4L437.0 93.2L437.5 91.2L437.9 99.4L438.4 97.5L438.8 98.4L439.3 94.8L439.7 98.3L440.2 99.2L440.6 99.0L441.1 96.2L441.5 94.2L442.0 95.3L442.4 92.4L442.9 93.2L443.3 96.1L443.8 94.9L444.2 96.0L444.7 96.7L445.1 100.2L445.6 99.0L446.0 96.5L446.5 97.7L446.9 94.2L447.4 94.7L447.8 96.4L448.3 92.7L448.7 93.5L449.2 91.9L449.6 94.5L450.1 96.9L450.5 92.9L451.0 93.7L451.4 91.6L451.9 90.8L452.3 91.3L452.8 96.8L453.2 99.1L453.7 96.0L454.1 94.3L454.6 97.0L455.0 96.4L455.5 98.8L455.9 98.8L456.4 99.3L456.8 100.3L457.3 99.1L457.7 99.6L458.2 98.3L458.6 100.8L459.1 100.3L459.5 102.8L460.0 102.2L460.4 104.3L460.9 105.0L461.3 102.0L461.8 102.9L462.2 103.4L462.7 106.9L463.1 109.1L463.6 107.6L464.0 105.6L464.5 108.0L464.9 103.7L465.4 108.0L465.8 104.2L466.3 101.1L466.7 110.4L467.2 109.1L467.6 104.3L468.1 105.7L468.5 105.4L469.0 105.5L469.4 102.8L469.9 104.1L470.3 106.4L470.8 106.4L471.2 107.9L471.7 106.6L472.1 109.7L472.6 104.8L473.0 105.3L473.5 101.6L473.9 102.9L474.4 107.3L474.8 104.1L475.3 106.1L475.7 105.1L476.2 103.2L476.6 104.2L477.1 104.1L477.5 104.4L478.0 106.7L478.4 106.5L478.9 104.1L479.3 103.4L479.8 105.5L480.2 105.3L480.7 107.8L481.1 110.6L481.6 107.4L482.0 105.3L482.5 104.7L482.9 103.3L483.4 103.0L483.8 103.0L484.3 104.1L484.7 104.5L485.2 106.4L485.6 104.6L486.1 104.5L486.5 103.3L487.0 108.1L487.4 107.1L487.9 108.9L488.3 107.6L488.8 108.2L489.2 105.4L489.7 107.3L490.1 110.2L490.6 104.0L491.0 107.7L491.5 108.9L491.9 106.8L492.4 107.2L492.8 107.8L493.3 104.6L493.7 105.8L494.2 103.7L494.6 103.8L495.1 104.1L495.5 105.1L496.0 105.9L496.4 106.1L496.9 103.5L497.3 109.3L497.8 108.5L498.2 107.2L498.7 105.1L499.1 105.6L499.6 106.8L500.0 106.2L500.5 102.9L500.9 107.5L501.0 111.1" fill="none" stroke="#8c8c8c" stroke-width="0.75" stroke-linejoin="round" stroke-linecap="round" />
<path d="M321.6 76.4L322.1 85.1L322.6 90.0L323.1 93.3L323.6 96.8L324.1 97.9L324.6 100.7L325.1 101.3L325.6 104.1L326.1 104.6L326.6 103.8L327.1 105.6L327.6 104.4L328.1 104.8L328.6 105.7L329.1 102.4L329.6 102.2L330.1 104.0L330.6 102.7L331.1 104.3L331.6 103.3L332.1 103.1L332.6 105.4L333.1 107.9L333.6 108.5L334.1 108.6L334.6 109.7L335.1 110.3L335.6 110.9L336.1 113.4L336.6 110.3L337.1 108.5L337.6 108.9L338.1 109.8L338.6 109.8L339.1 110.5L339.6 112.3L340.1 114.8L340.6 115.0L341.1 118.1L341.6 120.8L342.1 117.9L342.6 117.2L343.1 116.8L343.6 114.8L344.1 113.7L344.6 115.9L345.1 113.3L345.6 111.9L346.1 113.3L346.6 112.3L347.1 110.5L347.6 111.8L348.1 110.8L348.6 108.5L349.1 111.4L349.6 111.3L350.1 110.7L350.6 109.2L351.1 111.7L351.6 112.5L352.1 112.6L352.6 111.4L353.1 114.1L353.6 111.6L354.1 114.5L354.6 117.0L355.1 113.8L355.6 115.1L356.1 118.0L356.6 115.6L357.1 116.3L357.6 118.1L358.1 118.7L358.6 113.1L359.1 116.0L359.6 116.0L360.1 116.3L360.6 117.2L361.1 118.1L361.6 120.4L362.1 118.8L362.6 121.5L363.1 122.0L363.6 120.3L364.1 123.3L364.6 126.5L365.1 123.6L365.6 122.0L366.1 123.3L366.6 122.4L367.1 125.8L367.6 126.8L368.1 123.6L368.6 126.1L369.1 128.8L369.6 125.8L370.1 127.1L370.6 124.7L371.1 125.7L371.6 128.3L372.1 133.8L372.6 128.1L373.1 127.9L373.6 128.4L374.1 130.2L374.6 132.3L375.1 132.6L375.6 136.6L376.1 133.1L376.6 135.8L377.1 133.4L377.6 133.3L378.1 129.2L378.6 132.8L379.1 133.2L379.6 132.0L380.1 129.0L380.6 136.4L381.1 133.6L381.6 133.7L382.1 134.5L382.6 135.3L383.1 136.3L383.6 132.2L384.1 134.0L384.6 137.6L385.1 137.3L385.6 135.9L386.1 135.4L386.6 135.4L387.1 138.6L387.6 141.0L388.1 136.7L388.6 143.6L389.1 141.3L389.6 138.6L390.1 140.8L390.6 134.4L391.1 133.9L391.6 135.9L392.1 138.8L392.6 139.2L393.1 139.3L393.6 139.8L394.1 135.1L394.6 141.7L395.1 136.9L395.6 139.3L396.1 139.9L396.6 137.6L397.1 137.3L397.6 139.3L398.1 143.1L398.6 145.3L399.1 144.3L399.6 139.8L400.1 140.4L400.6 141.2L401.1 143.9L401.6 138.7L402.1 147.9L402.6 142.7L403.1 142.6L403.6 146.9L404.1 149.0L404.6 147.6L405.1 149.3L405.6 147.5L406.1 151.2L406.6 150.6L407.1 147.6L407.6 151.8L408.1 148.0L408.6 147.2L409.1 144.7L409.6 147.8L410.1 150.2L410.6 145.1L411.1 151.5L411.6 150.8L412.1 148.7L412.6 141.9L413.1 149.2L413.6 150.8L414.1 146.6L414.6 147.3L415.1 141.1L415.6 150.1L416.1 146.8L416.6 149.6L417.1 142.2L417.6 149.6L418.1 147.2L418.6 149.1L419.1 143.3L419.6 146.3L420.1 153.7L420.6 143.3L421.1 143.7L421.6 144.5L422.1 143.6L422.6 151.7L423.1 151.8L423.6 142.4L424.1 140.7L424.6 150.8L425.1 150.5L425.6 149.6L426.1 149.0L426.6 142.2L427.1 143.4L427.6 138.9L428.1 140.4L428.6 147.5L429.1 144.0L429.6 152.5L430.1 143.8L430.6 141.7L431.1 147.1L431.6 149.1L432.1 142.6L432.6 137.1L433.1 142.6L433.6 144.1L434.1 136.8L434.6 136.3L435.1 140.7L435.6 136.2L436.1 131.6L436.6 132.6L437.1 131.2L437.6 133.2L438.1 132.1L438.6 133.7L439.1 129.4L439.6 122.3L440.1 126.8L440.6 126.5L441.1 124.0L441.6 123.1L442.1 116.8L442.6 115.3L443.1 117.9L443.6 110.4L444.1 107.7L444.6 113.7L445.1 108.0L445.6 106.8L446.1 102.5L446.6 101.3L447.1 100.7L447.6 101.8L448.1 100.8L448.6 94.7L449.1 99.9L449.6 94.1L450.1 93.6L450.6 95.4L451.1 91.3L451.6 88.4L452.1 94.1L452.6 88.6L453.1 91.6L453.6 93.1L454.1 95.8L454.6 93.4L455.1 96.8L455.6 95.2L456.1 99.6L456.6 97.3L457.1 100.7L457.6 106.3L458.1 104.1L458.6 105.8L459.1 110.5L459.6 106.5L460.1 104.9L460.6 107.5L461.1 104.7L461.6 109.8L462.1 109.2L462.6 105.3L463.1 105.5L463.6 107.1L464.1 106.3L464.6 104.9L465.1 106.9L465.6 102.0L466.1 105.4L466.6 105.6L467.1 106.2L467.6 106.7L468.1 104.2L468.6 107.7L469.1 105.9L469.6 104.4L470.1 102.9L470.6 104.0L471.1 106.7L471.6 104.4L472.1 107.0L472.6 109.1L473.1 109.3L473.6 109.5L474.1 105.2L474.6 104.4L475.1 108.4L475.6 107.4L476.1 108.5L476.6 106.8L477.1 108.9L477.6 108.2L478.1 107.8L478.6 107.3L479.1 107.0L479.6 106.6L480.1 106.9L480.6 107.7L481.1 105.8L481.6 109.2L482.1 106.3L482.6 107.8L483.1 105.7L483.6 106.3L484.1 109.5L484.6 104.9L485.1 103.2L485.6 104.3L486.1 106.1L486.6 109.8L487.1 106.7L487.6 107.1L488.1 104.2L488.6 106.6L489.1 107.7L489.6 108.6L490.1 104.9L490.6 106.8L491.1 105.9L491.6 104.0L492.1 105.5L492.6 104.4L493.1 102.1L493.6 106.7L494.1 106.4L494.6 104.5L495.1 104.0L495.6 108.0L496.1 106.5L496.6 107.7L497.1 107.7L497.6 105.2L498.1 106.7L498.6 105.3L499.1 105.5L499.6 105.5L500.1 106.0L500.6 107.3L501.0 105.8" fill="none" stroke="#0f80ff" stroke-width="1.45" stroke-linejoin="round" stroke-linecap="round" />
<path d="M322.3 81.2L322.8 81.1L323.3 78.0L323.8 75.1L324.3 73.5L324.8 74.3L325.3 70.7L325.8 68.9L326.3 68.2L326.8 67.4L327.3 67.4L327.8 65.0L328.3 65.8L328.8 60.9L329.3 61.1L329.8 58.3L330.3 60.1L330.8 55.7L331.3 54.8L331.8 54.9L332.3 53.2L332.8 48.3L333.3 47.5L333.8 44.9L334.3 45.7L334.8 43.8L335.3 41.5L335.8 39.8L336.3 40.0L336.8 40.9L337.3 44.6L337.8 46.6L338.3 43.2L338.8 46.8L339.3 47.5L339.8 49.1L340.3 47.6L340.8 49.1L341.3 48.9L341.8 52.2L342.3 51.9L342.8 52.2L343.3 53.3L343.8 52.1L344.3 50.6L344.8 54.0L345.3 53.2L345.8 52.6L346.3 54.4L346.8 53.7L347.3 49.5L347.8 50.6L348.3 54.4L348.8 53.1L349.3 48.8L349.8 47.9L350.3 48.8L350.8 48.6L351.3 47.7L351.8 50.6L352.3 49.1L352.8 51.0L353.3 55.8L353.8 54.8L354.3 57.3L354.8 59.7L355.3 60.2L355.8 57.6L356.3 55.8L356.8 52.9L357.3 55.5L357.8 51.1L358.3 46.8L358.8 48.3L359.3 49.0L359.8 48.7L360.3 51.0L360.8 49.2L361.3 45.6L361.8 45.8L362.3 44.1L362.8 47.0L363.3 48.0L363.8 51.9L364.3 45.8L364.8 41.8L365.3 44.8L365.8 45.8L366.3 43.1L366.8 44.0L367.3 45.3L367.8 46.5L368.3 45.0L368.8 44.2L369.3 46.9L369.8 44.1L370.3 43.6L370.8 41.9L371.3 43.6L371.8 45.5L372.3 41.3L372.8 44.7L373.3 45.8L373.8 43.6L374.3 44.0L374.8 42.1L375.3 47.1L375.8 46.2L376.3 43.1L376.8 38.9L377.3 41.2L377.8 45.9L378.3 46.9L378.8 44.1L379.3 45.0L379.8 41.0L380.3 41.8L380.8 42.3L381.3 42.1L381.8 38.8L382.3 44.4L382.8 44.0L383.3 38.1L383.8 38.1L384.3 41.3L384.8 38.0L385.3 35.5L385.8 42.3L386.3 40.5L386.8 40.2L387.3 45.0L387.8 39.9L388.3 38.0L388.8 39.2L389.3 36.6L389.8 37.6L390.3 39.8L390.8 37.5L391.3 38.8L391.8 43.4L392.3 41.4L392.8 41.0L393.3 40.2L393.8 40.5L394.3 42.0L394.8 39.4L395.3 42.3L395.8 35.8L396.3 36.6L396.8 34.4L397.3 37.3L397.8 40.0L398.3 41.2L398.8 36.2L399.3 37.5L399.8 36.4L400.3 35.0L400.8 34.6L401.3 36.7L401.8 33.2L402.3 37.8L402.8 37.3L403.3 35.3L403.8 34.1L404.3 35.0L404.8 41.6L405.3 35.2L405.8 41.9L406.3 39.1L406.8 36.0L407.3 35.2L407.8 41.3L408.3 41.7L408.8 35.2L409.3 37.6L409.8 41.0L410.3 40.5L410.8 43.7L411.3 38.0L411.8 39.9L412.3 37.4L412.8 44.6L413.3 36.6L413.8 33.8L414.3 39.3L414.8 40.8L415.3 45.1L415.8 39.5L416.3 40.7L416.8 43.1L417.3 44.9L417.8 41.3L418.3 44.0L418.8 42.3L419.3 40.5L419.8 41.5L420.3 41.0L420.8 39.9L421.3 44.2L421.8 39.1L422.3 45.9L422.8 45.1L423.3 42.0L423.8 40.6L424.3 42.7L424.8 45.1L425.3 45.9L425.8 45.4L426.3 46.7L426.8 43.4L427.3 44.7L427.8 41.6L428.3 47.9L428.8 46.5L429.3 46.3L429.8 50.8L430.3 47.9L430.8 40.5L431.3 47.8L431.8 46.1L432.3 54.7L432.8 57.8L433.3 51.1L433.8 53.4L434.3 54.0L434.8 56.9L435.3 59.4L435.8 61.0L436.3 58.0L436.8 64.5L437.3 60.4L437.8 65.6L438.3 69.5L438.8 69.4L439.3 67.3L439.8 70.1L440.3 73.0L440.8 76.8L441.3 80.4L441.8 77.3L442.3 83.6L442.8 86.2L443.3 88.1L443.8 90.1L444.3 93.5L444.8 92.4L445.3 94.1L445.8 95.0L446.3 96.3L446.8 89.0L447.3 95.6L447.8 91.9L448.3 91.2L448.8 88.8L449.3 86.9L449.8 89.8L450.3 89.3L450.8 90.9L451.3 87.7L451.8 94.6L452.3 92.2L452.8 91.1L453.3 90.6L453.8 91.0L454.3 91.4L454.8 94.1L455.3 96.4L455.8 96.3L456.3 94.8L456.8 98.3L457.3 98.4L457.8 103.2L458.3 108.1L458.8 105.0L459.3 102.0L459.8 98.8L460.3 99.5L460.8 100.7L461.3 107.2L461.8 104.0L462.3 106.3L462.8 105.0L463.3 108.2L463.8 111.0L464.3 104.9L464.8 105.5L465.3 105.4L465.8 109.3L466.3 103.6L466.8 103.0L467.3 102.2L467.8 103.5L468.3 110.6L468.8 114.5L469.3 105.6L469.8 110.4L470.3 107.7L470.8 104.3L471.3 106.5L471.8 106.4L472.3 106.8L472.8 111.5L473.3 102.6L473.8 108.4L474.3 107.8L474.8 105.8L475.3 108.0L475.8 109.5L476.3 107.7L476.8 108.4L477.3 107.5L477.8 102.5L478.3 111.6L478.8 113.0L479.3 109.8L479.8 108.4L480.3 103.2L480.8 105.7L481.3 104.3L481.8 105.6L482.3 108.3L482.8 104.6L483.3 105.1L483.8 102.0L484.3 106.0L484.8 106.2L485.3 104.5L485.8 105.7L486.3 109.8L486.8 103.3L487.3 103.6L487.8 105.1L488.3 109.8L488.8 111.0L489.3 106.8L489.8 104.6L490.3 105.9L490.8 108.0L491.3 105.2L491.8 109.8L492.3 109.2L492.8 106.8L493.3 107.9L493.8 108.4L494.3 108.8L494.8 104.9L495.3 108.3L495.8 105.4L496.3 104.9L496.8 106.4L497.3 105.5L497.8 103.9L498.3 103.1L498.8 105.2L499.3 109.1L499.8 109.7L500.3 111.7L500.8 116.4" fill="none" stroke="#ff0000" stroke-width="1.45" stroke-linejoin="round" stroke-linecap="round" />
<path d="M320.9 176.6L321.4 176.7L321.9 176.8L322.4 176.8L322.9 176.9L323.4 177.0L323.9 177.1L324.4 177.2L324.9 177.3L325.4 177.4L325.9 177.5L326.4 177.7L326.9 177.8L327.4 177.9L327.9 178.1L328.4 178.2L328.9 178.3L329.4 178.5L329.9 178.6L330.4 178.8L330.9 179.0L331.4 179.1L331.9 179.3L332.4 179.5L332.9 179.7L333.4 179.8L333.9 180.0L334.4 180.2L334.9 180.4L335.4 180.6L335.9 180.8L336.4 181.0L336.9 181.2L337.4 181.4L337.9 181.6L338.4 181.8L338.9 182.0L339.4 182.2L339.9 182.4L340.4 182.6L340.9 182.9L341.4 183.1L341.9 183.3L342.4 183.5L342.9 183.7L343.4 184.0L343.9 184.2L344.4 184.4L344.9 184.6L345.4 184.9L345.9 185.1L346.4 185.3L346.9 185.6L347.4 185.8L347.9 186.0L348.4 186.3L348.9 186.5L349.4 186.7L349.9 187.0L350.4 187.2L350.9 187.4L351.4 187.7L351.9 187.9L352.4 188.1L352.9 188.4L353.4 188.6L353.9 188.9L354.4 189.1L354.9 189.3L355.4 189.6L355.9 189.8L356.4 190.1L356.9 190.3L357.4 190.6L357.9 190.8L358.4 191.1L358.9 191.3L359.4 191.6L359.9 191.8L360.4 192.1L360.9 192.3L361.4 192.6L361.9 192.8L362.4 193.1L362.9 193.3L363.4 193.6L363.9 193.8L364.4 194.1L364.9 194.3L365.4 194.6L365.9 194.9L366.4 195.1L366.9 195.4L367.4 195.6L367.9 195.9L368.4 196.2L368.9 196.4L369.4 196.7L369.9 197.0L370.4 197.2L370.9 197.5L371.4 197.8L371.9 198.0L372.4 198.3L372.9 198.6L373.4 198.9L373.9 199.1L374.4 199.4L374.9 199.7L375.4 200.0L375.9 200.3L376.4 200.5L376.9 200.8L377.4 201.1L377.9 201.4L378.4 201.7L378.9 202.0L379.4 202.3L379.9 202.6L380.4 202.9L380.9 203.2L381.4 203.5L381.9 203.8L382.4 204.1L382.9 204.4L383.4 204.7L383.9 205.0L384.4 205.3L384.9 205.6L385.4 205.9L385.9 206.3L386.4 206.6L386.9 206.9L387.4 207.2L387.9 207.5L388.4 207.9L388.9 208.2L389.4 208.5L389.9 208.9L390.4 209.2L390.9 209.6L391.4 209.9L391.9 210.2L392.4 210.6L392.9 210.9L393.4 211.3L393.9 211.7L394.4 212.0L394.9 212.4L395.4 212.7L395.9 213.1L396.4 213.5L396.9 213.8L397.4 214.2L397.9 214.6L398.4 214.9L398.9 215.3L399.4 215.7L399.9 216.1L400.4 216.4L400.9 216.8L401.4 217.2L401.9 217.6L402.4 218.0L402.9 218.4L403.4 218.7L403.9 219.1L404.4 219.5L404.9 219.9L405.4 220.3L405.9 220.7L406.4 221.1L406.9 221.5L407.4 221.9L407.9 222.3L408.4 222.7L408.9 223.1L409.4 223.5L409.9 223.9L410.4 224.3L410.9 224.7L411.4 225.1L411.9 225.5L412.4 225.9L412.9 226.3L413.4 226.7L413.9 227.1L414.4 227.5L414.9 227.9L415.4 228.3L415.9 228.7L416.4 229.1L416.9 229.5L417.4 229.9L417.9 230.3L418.4 230.7L418.9 231.1L419.4 231.5L419.9 231.9L420.4 232.3L420.9 232.7L421.4 233.1L421.9 233.4L422.4 233.8L422.9 234.2L423.4 234.6L423.9 234.9L424.4 235.3L424.9 235.7L425.4 236.0L425.9 236.4L426.4 236.8L426.9 237.1L427.4 237.5L427.9 237.8L428.4 238.1L428.9 238.5L429.4 238.8L429.9 239.1L430.4 239.4L430.9 239.8L431.4 240.1L431.9 240.4L432.4 240.7L432.9 241.0L433.4 241.3L433.9 241.5L434.4 241.8L434.9 242.1L435.4 242.3L435.9 242.6L436.4 242.8L436.9 243.1L437.4 243.3L437.9 243.5L438.4 243.8L438.9 244.0L439.4 244.2L439.9 244.4L440.4 244.5L440.9 244.7L441.4 244.9L441.9 245.0L442.4 245.2L442.9 245.3L443.4 245.4L443.9 245.5L444.4 245.6L444.9 245.7L445.4 245.8L445.9 245.9L446.4 245.9L446.9 246.0L447.4 246.0L447.9 246.0L448.4 246.0L448.9 246.0L449.4 246.0L449.9 246.0L450.4 246.0L450.9 246.0L451.4 246.0L451.9 246.0L452.4 246.0L452.9 246.0L453.4 246.0L453.9 246.0L454.4 246.0L454.9 246.0L455.4 246.0L455.9 246.0L456.4 246.0L456.9 246.0L457.4 246.0L457.9 246.0L458.4 246.0L458.9 246.0L459.4 246.0L459.9 246.0L460.4 246.0L460.9 246.0L461.4 246.0L461.9 246.0L462.4 246.0L462.9 246.0L463.4 246.0L463.9 246.0L464.4 246.0L464.9 246.0L465.4 246.0L465.9 246.0L466.4 246.0L466.9 246.0L467.4 246.0L467.9 246.0L468.4 246.0L468.9 246.0L469.4 246.0L469.9 246.0L470.4 246.0L470.9 246.0L471.4 246.0L471.9 246.0L472.4 246.0L472.9 246.0L473.4 246.0L473.9 246.0L474.4 246.0L474.9 246.0L475.4 246.0L475.9 246.0L476.4 246.0L476.9 246.0L477.4 246.0L477.9 246.0L478.4 246.0L478.9 246.0L479.4 246.0L479.9 246.0L480.4 246.0L480.9 246.0L481.4 246.0L481.9 246.0L482.4 246.0L482.9 246.0L483.4 246.0L483.9 246.0L484.4 246.0L484.9 246.0L485.4 246.0L485.9 246.0L486.4 246.0L486.9 246.0L487.4 246.0L487.9 246.0L488.4 246.0L488.9 246.0L489.4 246.0L489.9 246.0L490.4 246.0L490.9 246.0L491.4 246.0L491.9 246.0L492.4 246.0L492.9 246.0L493.4 246.0L493.9 246.0L494.4 246.0L494.9 246.0L495.4 246.0L495.9 246.0L496.4 246.0L496.9 246.0L497.4 246.0L497.9 246.0L498.4 246.0L498.9 246.0L499.4 246.0L499.9 246.0L500.4 246.0L500.9 246.0" fill="none" stroke="#ff0000" stroke-width="2.00" stroke-linejoin="round" stroke-linecap="round" />
<path d="M320.9 315.4L321.4 315.3L321.9 315.2L322.4 315.2L322.9 315.1L323.4 315.0L323.9 314.9L324.4 314.8L324.9 314.7L325.4 314.6L325.9 314.5L326.4 314.3L326.9 314.2L327.4 314.1L327.9 313.9L328.4 313.8L328.9 313.7L329.4 313.5L329.9 313.4L330.4 313.2L330.9 313.0L331.4 312.9L331.9 312.7L332.4 312.5L332.9 312.3L333.4 312.2L333.9 312.0L334.4 311.8L334.9 311.6L335.4 311.4L335.9 311.2L336.4 311.0L336.9 310.8L337.4 310.6L337.9 310.4L338.4 310.2L338.9 310.0L339.4 309.8L339.9 309.6L340.4 309.4L340.9 309.1L341.4 308.9L341.9 308.7L342.4 308.5L342.9 308.3L343.4 308.0L343.9 307.8L344.4 307.6L344.9 307.4L345.4 307.1L345.9 306.9L346.4 306.7L346.9 306.4L347.4 306.2L347.9 306.0L348.4 305.7L348.9 305.5L349.4 305.3L349.9 305.0L350.4 304.8L350.9 304.6L351.4 304.3L351.9 304.1L352.4 303.9L352.9 303.6L353.4 303.4L353.9 303.1L354.4 302.9L354.9 302.7L355.4 302.4L355.9 302.2L356.4 301.9L356.9 301.7L357.4 301.4L357.9 301.2L358.4 300.9L358.9 300.7L359.4 300.4L359.9 300.2L360.4 299.9L360.9 299.7L361.4 299.4L361.9 299.2L362.4 298.9L362.9 298.7L363.4 298.4L363.9 298.2L364.4 297.9L364.9 297.7L365.4 297.4L365.9 297.1L366.4 296.9L366.9 296.6L367.4 296.4L367.9 296.1L368.4 295.8L368.9 295.6L369.4 295.3L369.9 295.0L370.4 294.8L370.9 294.5L371.4 294.2L371.9 294.0L372.4 293.7L372.9 293.4L373.4 293.1L373.9 292.9L374.4 292.6L374.9 292.3L375.4 292.0L375.9 291.7L376.4 291.5L376.9 291.2L377.4 290.9L377.9 290.6L378.4 290.3L378.9 290.0L379.4 289.7L379.9 289.4L380.4 289.1L380.9 288.8L381.4 288.5L381.9 288.2L382.4 287.9L382.9 287.6L383.4 287.3L383.9 287.0L384.4 286.7L384.9 286.4L385.4 286.1L385.9 285.7L386.4 285.4L386.9 285.1L387.4 284.8L387.9 284.5L388.4 284.1L388.9 283.8L389.4 283.5L389.9 283.1L390.4 282.8L390.9 282.4L391.4 282.1L391.9 281.8L392.4 281.4L392.9 281.1L393.4 280.7L393.9 280.3L394.4 280.0L394.9 279.6L395.4 279.3L395.9 278.9L396.4 278.5L396.9 278.2L397.4 277.8L397.9 277.4L398.4 277.1L398.9 276.7L399.4 276.3L399.9 275.9L400.4 275.6L400.9 275.2L401.4 274.8L401.9 274.4L402.4 274.0L402.9 273.6L403.4 273.3L403.9 272.9L404.4 272.5L404.9 272.1L405.4 271.7L405.9 271.3L406.4 270.9L406.9 270.5L407.4 270.1L407.9 269.7L408.4 269.3L408.9 268.9L409.4 268.5L409.9 268.1L410.4 267.7L410.9 267.3L411.4 266.9L411.9 266.5L412.4 266.1L412.9 265.7L413.4 265.3L413.9 264.9L414.4 264.5L414.9 264.1L415.4 263.7L415.9 263.3L416.4 262.9L416.9 262.5L417.4 262.1L417.9 261.7L418.4 261.3L418.9 260.9L419.4 260.5L419.9 260.1L420.4 259.7L420.9 259.3L421.4 258.9L421.9 258.6L422.4 258.2L422.9 257.8L423.4 257.4L423.9 257.1L424.4 256.7L424.9 256.3L425.4 256.0L425.9 255.6L426.4 255.2L426.9 254.9L427.4 254.5L427.9 254.2L428.4 253.9L428.9 253.5L429.4 253.2L429.9 252.9L430.4 252.6L430.9 252.2L431.4 251.9L431.9 251.6L432.4 251.3L432.9 251.0L433.4 250.7L433.9 250.5L434.4 250.2L434.9 249.9L435.4 249.7L435.9 249.4L436.4 249.2L436.9 248.9L437.4 248.7L437.9 248.5L438.4 248.2L438.9 248.0L439.4 247.8L439.9 247.6L440.4 247.5L440.9 247.3L441.4 247.1L441.9 247.0L442.4 246.8L442.9 246.7L443.4 246.6L443.9 246.5L444.4 246.4L444.9 246.3L445.4 246.2L445.9 246.1L446.4 246.1L446.9 246.0L447.4 246.0L447.9 246.0L448.4 246.0L448.9 246.0L449.4 246.0L449.9 246.0L450.4 246.0L450.9 246.0L451.4 246.0L451.9 246.0L452.4 246.0L452.9 246.0L453.4 246.0L453.9 246.0L454.4 246.0L454.9 246.0L455.4 246.0L455.9 246.0L456.4 246.0L456.9 246.0L457.4 246.0L457.9 246.0L458.4 246.0L458.9 246.0L459.4 246.0L459.9 246.0L460.4 246.0L460.9 246.0L461.4 246.0L461.9 246.0L462.4 246.0L462.9 246.0L463.4 246.0L463.9 246.0L464.4 246.0L464.9 246.0L465.4 246.0L465.9 246.0L466.4 246.0L466.9 246.0L467.4 246.0L467.9 246.0L468.4 246.0L468.9 246.0L469.4 246.0L469.9 246.0L470.4 246.0L470.9 246.0L471.4 246.0L471.9 246.0L472.4 246.0L472.9 246.0L473.4 246.0L473.9 246.0L474.4 246.0L474.9 246.0L475.4 246.0L475.9 246.0L476.4 246.0L476.9 246.0L477.4 246.0L477.9 246.0L478.4 246.0L478.9 246.0L479.4 246.0L479.9 246.0L480.4 246.0L480.9 246.0L481.4 246.0L481.9 246.0L482.4 246.0L482.9 246.0L483.4 246.0L483.9 246.0L484.4 246.0L484.9 246.0L485.4 246.0L485.9 246.0L486.4 246.0L486.9 246.0L487.4 246.0L487.9 246.0L488.4 246.0L488.9 246.0L489.4 246.0L489.9 246.0L490.4 246.0L490.9 246.0L491.4 246.0L491.9 246.0L492.4 246.0L492.9 246.0L493.4 246.0L493.9 246.0L494.4 246.0L494.9 246.0L495.4 246.0L495.9 246.0L496.4 246.0L496.9 246.0L497.4 246.0L497.9 246.0L498.4 246.0L498.9 246.0L499.4 246.0L499.9 246.0L500.4 246.0L500.9 246.0" fill="none" stroke="#0f80ff" stroke-width="2.00" stroke-linejoin="round" stroke-linecap="round" />
<path d="M698.6 52.7L696.8 56.2L694.6 52.2L691.9 56.8L689.2 53.0L686.5 56.8L683.2 54.0L679.7 52.7L675.7 61.1L671.6 67.8L667.6 76.5L664.0 83.2L660.0 86.5L655.9 88.1L651.9 85.9L647.8 86.5L643.8 85.9L640.5 90.5L635.9 84.6L632.4 85.4L628.4 81.1L624.3 74.6L620.3 79.2L616.8 84.6L612.9 85.9L609.0 84.1L605.0 88.8L601.0 89.2L597.0 91.4L593.0 91.9L588.9 90.0L584.9 84.1L581.1 82.7L577.3 98.1L573.4 122.0L569.2 163.5L565.7 201.7L561.6 236.5L557.8 254.0L553.8 271.9L550.1 275.3L545.4 280.5L541.6 280.0L545.6 280.6L549.5 280.5L551.8 276.6L553.8 277.0L557.8 280.0L561.9 281.4L565.7 282.7L569.2 270.5L573.2 267.6L577.3 251.6L581.4 245.4L584.9 232.7L588.1 240.5L593.0 231.9L597.0 238.6L600.8 241.0L604.9 248.8L608.9 243.5L613.0 243.4L616.7 240.6L620.7 243.4L624.8 243.4L628.3 239.8L632.4 246.2L636.5 237.3L640.5 236.2L644.1 224.6L648.1 230.8L652.2 217.8L655.9 228.6L660.0 219.2L664.0 223.2L668.1 202.2L672.2 177.0L676.0 131.9L679.7 106.8L683.2 69.7L686.8 56.4L690.5 53.2L694.2 56.6L698.6 52.7" fill="none" stroke="#ff0000" stroke-width="0.70" stroke-linejoin="round" stroke-linecap="round" />
<clipPath id="ce"><rect x="526.30" y="9.60" width="188.80" height="315.30"/></clipPath>
<g clip-path="url(#ce)">
<circle cx="526.6" cy="227.1" r="3.3" fill="url(#gk)"/>
<circle cx="531.3" cy="224.1" r="3.3" fill="url(#gk)"/>
<circle cx="536.0" cy="221.0" r="3.3" fill="url(#gk)"/>
<circle cx="540.7" cy="218.0" r="3.3" fill="url(#gk)"/>
<circle cx="545.4" cy="215.0" r="3.3" fill="url(#gk)"/>
<circle cx="550.1" cy="211.9" r="3.3" fill="url(#gk)"/>
<circle cx="554.8" cy="208.9" r="3.3" fill="url(#gk)"/>
<circle cx="559.5" cy="205.9" r="3.3" fill="url(#gk)"/>
<circle cx="564.2" cy="202.8" r="3.3" fill="url(#gk)"/>
<circle cx="568.9" cy="199.8" r="3.3" fill="url(#gk)"/>
<circle cx="573.6" cy="196.8" r="3.3" fill="url(#gk)"/>
<circle cx="578.4" cy="193.7" r="3.3" fill="url(#gk)"/>
<circle cx="583.1" cy="190.7" r="3.3" fill="url(#gk)"/>
<circle cx="587.8" cy="187.6" r="3.3" fill="url(#gk)"/>
<circle cx="592.5" cy="184.6" r="3.3" fill="url(#gk)"/>
<circle cx="597.2" cy="181.6" r="3.3" fill="url(#gk)"/>
<circle cx="601.9" cy="178.5" r="3.3" fill="url(#gk)"/>
<circle cx="606.6" cy="175.5" r="3.3" fill="url(#gk)"/>
<circle cx="611.3" cy="172.5" r="3.3" fill="url(#gk)"/>
<circle cx="616.0" cy="169.4" r="3.3" fill="url(#gk)"/>
<circle cx="620.7" cy="166.4" r="3.3" fill="url(#gk)"/>
<circle cx="625.4" cy="163.4" r="3.3" fill="url(#gk)"/>
<circle cx="630.1" cy="160.3" r="3.3" fill="url(#gk)"/>
<circle cx="634.8" cy="157.3" r="3.3" fill="url(#gk)"/>
<circle cx="639.5" cy="154.3" r="3.3" fill="url(#gk)"/>
<circle cx="644.2" cy="151.2" r="3.3" fill="url(#gk)"/>
<circle cx="648.9" cy="148.2" r="3.3" fill="url(#gk)"/>
<circle cx="653.6" cy="145.2" r="3.3" fill="url(#gk)"/>
<circle cx="658.3" cy="142.1" r="3.3" fill="url(#gk)"/>
<circle cx="663.0" cy="139.1" r="3.3" fill="url(#gk)"/>
<circle cx="667.8" cy="136.0" r="3.3" fill="url(#gk)"/>
<circle cx="672.5" cy="133.0" r="3.3" fill="url(#gk)"/>
<circle cx="677.2" cy="130.0" r="3.3" fill="url(#gk)"/>
<circle cx="681.9" cy="126.9" r="3.3" fill="url(#gk)"/>
<circle cx="686.6" cy="123.9" r="3.3" fill="url(#gk)"/>
<circle cx="691.3" cy="120.9" r="3.3" fill="url(#gk)"/>
<circle cx="696.0" cy="117.8" r="3.3" fill="url(#gk)"/>
<circle cx="700.7" cy="114.8" r="3.3" fill="url(#gk)"/>
<circle cx="705.4" cy="111.8" r="3.3" fill="url(#gk)"/>
<circle cx="710.1" cy="108.7" r="3.3" fill="url(#gk)"/>
<circle cx="714.8" cy="105.7" r="3.3" fill="url(#gk)"/>
</g>
<circle cx="698.6" cy="52.7" r="3.2" fill="url(#gr)"/>
<circle cx="696.8" cy="56.2" r="3.2" fill="url(#gr)"/>
<circle cx="694.6" cy="52.2" r="3.2" fill="url(#gr)"/>
<circle cx="691.9" cy="56.8" r="3.2" fill="url(#gr)"/>
<circle cx="689.2" cy="53.0" r="3.2" fill="url(#gr)"/>
<circle cx="686.5" cy="56.8" r="3.2" fill="url(#gr)"/>
<circle cx="683.2" cy="54.0" r="3.2" fill="url(#gr)"/>
<circle cx="679.7" cy="52.7" r="3.2" fill="url(#gr)"/>
<circle cx="675.7" cy="61.1" r="3.2" fill="url(#gr)"/>
<circle cx="671.6" cy="67.8" r="3.2" fill="url(#gr)"/>
<circle cx="667.6" cy="76.5" r="3.2" fill="url(#gr)"/>
<circle cx="664.0" cy="83.2" r="3.2" fill="url(#gr)"/>
<circle cx="660.0" cy="86.5" r="3.2" fill="url(#gr)"/>
<circle cx="655.9" cy="88.1" r="3.2" fill="url(#gr)"/>
<circle cx="651.9" cy="85.9" r="3.2" fill="url(#gr)"/>
<circle cx="647.8" cy="86.5" r="3.2" fill="url(#gr)"/>
<circle cx="643.8" cy="85.9" r="3.2" fill="url(#gr)"/>
<circle cx="640.5" cy="90.5" r="3.2" fill="url(#gr)"/>
<circle cx="635.9" cy="84.6" r="3.2" fill="url(#gr)"/>
<circle cx="632.4" cy="85.4" r="3.2" fill="url(#gr)"/>
<circle cx="628.4" cy="81.1" r="3.2" fill="url(#gr)"/>
<circle cx="624.3" cy="74.6" r="3.2" fill="url(#gr)"/>
<circle cx="620.3" cy="79.2" r="3.2" fill="url(#gr)"/>
<circle cx="616.8" cy="84.6" r="3.2" fill="url(#gr)"/>
<circle cx="612.9" cy="85.9" r="3.2" fill="url(#gr)"/>
<circle cx="609.0" cy="84.1" r="3.2" fill="url(#gr)"/>
<circle cx="605.0" cy="88.8" r="3.2" fill="url(#gr)"/>
<circle cx="601.0" cy="89.2" r="3.2" fill="url(#gr)"/>
<circle cx="597.0" cy="91.4" r="3.2" fill="url(#gr)"/>
<circle cx="593.0" cy="91.9" r="3.2" fill="url(#gr)"/>
<circle cx="588.9" cy="90.0" r="3.2" fill="url(#gr)"/>
<circle cx="584.9" cy="84.1" r="3.2" fill="url(#gr)"/>
<circle cx="581.1" cy="82.7" r="3.2" fill="url(#gr)"/>
<circle cx="577.3" cy="98.1" r="3.2" fill="url(#gr)"/>
<circle cx="573.4" cy="122.0" r="3.2" fill="url(#gr)"/>
<circle cx="569.2" cy="163.5" r="3.2" fill="url(#gr)"/>
<circle cx="565.7" cy="201.7" r="3.2" fill="url(#gr)"/>
<circle cx="561.6" cy="236.5" r="3.2" fill="url(#gr)"/>
<circle cx="557.8" cy="254.0" r="3.2" fill="url(#gr)"/>
<circle cx="553.8" cy="271.9" r="3.2" fill="url(#gr)"/>
<circle cx="550.1" cy="275.3" r="3.2" fill="url(#gr)"/>
<circle cx="545.4" cy="280.5" r="3.2" fill="url(#gr)"/>
<circle cx="541.6" cy="280.0" r="3.2" fill="url(#gr)"/>
<circle cx="545.6" cy="280.6" r="3.2" fill="url(#gr)"/>
<circle cx="549.5" cy="280.5" r="3.2" fill="url(#gr)"/>
<circle cx="551.8" cy="276.6" r="3.2" fill="url(#gr)"/>
<circle cx="553.8" cy="277.0" r="3.2" fill="url(#gr)"/>
<circle cx="557.8" cy="280.0" r="3.2" fill="url(#gr)"/>
<circle cx="561.9" cy="281.4" r="3.2" fill="url(#gr)"/>
<circle cx="565.7" cy="282.7" r="3.2" fill="url(#gr)"/>
<circle cx="569.2" cy="270.5" r="3.2" fill="url(#gr)"/>
<circle cx="573.2" cy="267.6" r="3.2" fill="url(#gr)"/>
<circle cx="577.3" cy="251.6" r="3.2" fill="url(#gr)"/>
<circle cx="581.4" cy="245.4" r="3.2" fill="url(#gr)"/>
<circle cx="584.9" cy="232.7" r="3.2" fill="url(#gr)"/>
<circle cx="588.1" cy="240.5" r="3.2" fill="url(#gr)"/>
<circle cx="593.0" cy="231.9" r="3.2" fill="url(#gr)"/>
<circle cx="597.0" cy="238.6" r="3.2" fill="url(#gr)"/>
<circle cx="600.8" cy="241.0" r="3.2" fill="url(#gr)"/>
<circle cx="604.9" cy="248.8" r="3.2" fill="url(#gr)"/>
<circle cx="608.9" cy="243.5" r="3.2" fill="url(#gr)"/>
<circle cx="613.0" cy="243.4" r="3.2" fill="url(#gr)"/>
<circle cx="616.7" cy="240.6" r="3.2" fill="url(#gr)"/>
<circle cx="620.7" cy="243.4" r="3.2" fill="url(#gr)"/>
<circle cx="624.8" cy="243.4" r="3.2" fill="url(#gr)"/>
<circle cx="628.3" cy="239.8" r="3.2" fill="url(#gr)"/>
<circle cx="632.4" cy="246.2" r="3.2" fill="url(#gr)"/>
<circle cx="636.5" cy="237.3" r="3.2" fill="url(#gr)"/>
<circle cx="640.5" cy="236.2" r="3.2" fill="url(#gr)"/>
<circle cx="644.1" cy="224.6" r="3.2" fill="url(#gr)"/>
<circle cx="648.1" cy="230.8" r="3.2" fill="url(#gr)"/>
<circle cx="652.2" cy="217.8" r="3.2" fill="url(#gr)"/>
<circle cx="655.9" cy="228.6" r="3.2" fill="url(#gr)"/>
<circle cx="660.0" cy="219.2" r="3.2" fill="url(#gr)"/>
<circle cx="664.0" cy="223.2" r="3.2" fill="url(#gr)"/>
<circle cx="668.1" cy="202.2" r="3.2" fill="url(#gr)"/>
<circle cx="672.2" cy="177.0" r="3.2" fill="url(#gr)"/>
<circle cx="676.0" cy="131.9" r="3.2" fill="url(#gr)"/>
<circle cx="679.7" cy="106.8" r="3.2" fill="url(#gr)"/>
<circle cx="683.2" cy="69.7" r="3.2" fill="url(#gr)"/>
<circle cx="686.8" cy="56.4" r="3.2" fill="url(#gr)"/>
<circle cx="690.5" cy="53.2" r="3.2" fill="url(#gr)"/>
<circle cx="694.2" cy="56.6" r="3.2" fill="url(#gr)"/>
<circle cx="698.6" cy="52.7" r="3.2" fill="url(#gr)"/>
<rect x="54.00" y="9.60" width="189.00" height="315.30" fill="none" stroke="#000" stroke-width="1.50"/>
<line x1="54.00" y1="166.90" x2="243.00" y2="166.90" stroke="#000" stroke-width="1.50" />
<rect x="312.00" y="9.60" width="189.00" height="315.30" fill="none" stroke="#000" stroke-width="1.50"/>
<line x1="312.00" y1="166.90" x2="501.00" y2="166.90" stroke="#000" stroke-width="1.50" />
<rect x="526.30" y="9.60" width="188.80" height="315.30" fill="none" stroke="#000" stroke-width="1.50"/>
<line x1="77.62" y1="166.90" x2="77.62" y2="163.70" stroke="#000" stroke-width="1.40" />
<line x1="77.62" y1="324.90" x2="77.62" y2="321.70" stroke="#000" stroke-width="1.40" />
<line x1="101.25" y1="166.90" x2="101.25" y2="163.70" stroke="#000" stroke-width="1.40" />
<line x1="101.25" y1="324.90" x2="101.25" y2="321.70" stroke="#000" stroke-width="1.40" />
<line x1="124.88" y1="166.90" x2="124.88" y2="163.70" stroke="#000" stroke-width="1.40" />
<line x1="124.88" y1="324.90" x2="124.88" y2="321.70" stroke="#000" stroke-width="1.40" />
<line x1="148.50" y1="166.90" x2="148.50" y2="163.70" stroke="#000" stroke-width="1.40" />
<line x1="148.50" y1="324.90" x2="148.50" y2="321.70" stroke="#000" stroke-width="1.40" />
<line x1="172.12" y1="166.90" x2="172.12" y2="163.70" stroke="#000" stroke-width="1.40" />
<line x1="172.12" y1="324.90" x2="172.12" y2="321.70" stroke="#000" stroke-width="1.40" />
<line x1="195.75" y1="166.90" x2="195.75" y2="163.70" stroke="#000" stroke-width="1.40" />
<line x1="195.75" y1="324.90" x2="195.75" y2="321.70" stroke="#000" stroke-width="1.40" />
<line x1="219.38" y1="166.90" x2="219.38" y2="163.70" stroke="#000" stroke-width="1.40" />
<line x1="219.38" y1="324.90" x2="219.38" y2="321.70" stroke="#000" stroke-width="1.40" />
<line x1="335.62" y1="164.70" x2="335.62" y2="169.10" stroke="#000" stroke-width="1.40" />
<line x1="335.62" y1="324.90" x2="335.62" y2="322.70" stroke="#000" stroke-width="1.40" />
<line x1="359.25" y1="163.30" x2="359.25" y2="170.50" stroke="#000" stroke-width="1.40" />
<line x1="359.25" y1="324.90" x2="359.25" y2="321.30" stroke="#000" stroke-width="1.40" />
<line x1="382.88" y1="164.70" x2="382.88" y2="169.10" stroke="#000" stroke-width="1.40" />
<line x1="382.88" y1="324.90" x2="382.88" y2="322.70" stroke="#000" stroke-width="1.40" />
<line x1="406.50" y1="163.30" x2="406.50" y2="170.50" stroke="#000" stroke-width="1.40" />
<line x1="406.50" y1="324.90" x2="406.50" y2="321.30" stroke="#000" stroke-width="1.40" />
<line x1="430.12" y1="164.70" x2="430.12" y2="169.10" stroke="#000" stroke-width="1.40" />
<line x1="430.12" y1="324.90" x2="430.12" y2="322.70" stroke="#000" stroke-width="1.40" />
<line x1="453.75" y1="163.30" x2="453.75" y2="170.50" stroke="#000" stroke-width="1.40" />
<line x1="453.75" y1="324.90" x2="453.75" y2="321.30" stroke="#000" stroke-width="1.40" />
<line x1="477.38" y1="164.70" x2="477.38" y2="169.10" stroke="#000" stroke-width="1.40" />
<line x1="477.38" y1="324.90" x2="477.38" y2="322.70" stroke="#000" stroke-width="1.40" />
<line x1="54.00" y1="140.68" x2="56.20" y2="140.68" stroke="#000" stroke-width="1.40" />
<line x1="54.00" y1="114.47" x2="57.60" y2="114.47" stroke="#000" stroke-width="1.40" />
<line x1="54.00" y1="88.25" x2="56.20" y2="88.25" stroke="#000" stroke-width="1.40" />
<line x1="54.00" y1="62.03" x2="57.60" y2="62.03" stroke="#000" stroke-width="1.40" />
<line x1="54.00" y1="35.82" x2="56.20" y2="35.82" stroke="#000" stroke-width="1.40" />
<line x1="54.00" y1="313.70" x2="57.60" y2="313.70" stroke="#000" stroke-width="1.40" />
<line x1="54.00" y1="292.85" x2="56.20" y2="292.85" stroke="#000" stroke-width="1.40" />
<line x1="54.00" y1="272.00" x2="57.60" y2="272.00" stroke="#000" stroke-width="1.40" />
<line x1="54.00" y1="251.15" x2="56.20" y2="251.15" stroke="#000" stroke-width="1.40" />
<line x1="54.00" y1="230.30" x2="57.60" y2="230.30" stroke="#000" stroke-width="1.40" />
<line x1="54.00" y1="209.45" x2="56.20" y2="209.45" stroke="#000" stroke-width="1.40" />
<line x1="54.00" y1="188.60" x2="57.60" y2="188.60" stroke="#000" stroke-width="1.40" />
<line x1="312.00" y1="149.42" x2="314.20" y2="149.42" stroke="#000" stroke-width="1.40" />
<line x1="312.00" y1="131.94" x2="315.60" y2="131.94" stroke="#000" stroke-width="1.40" />
<line x1="312.00" y1="114.47" x2="314.20" y2="114.47" stroke="#000" stroke-width="1.40" />
<line x1="312.00" y1="96.99" x2="315.60" y2="96.99" stroke="#000" stroke-width="1.40" />
<line x1="312.00" y1="79.51" x2="314.20" y2="79.51" stroke="#000" stroke-width="1.40" />
<line x1="312.00" y1="62.03" x2="315.60" y2="62.03" stroke="#000" stroke-width="1.40" />
<line x1="312.00" y1="44.56" x2="314.20" y2="44.56" stroke="#000" stroke-width="1.40" />
<line x1="312.00" y1="27.08" x2="315.60" y2="27.08" stroke="#000" stroke-width="1.40" />
<line x1="312.00" y1="313.65" x2="315.60" y2="313.65" stroke="#000" stroke-width="1.40" />
<line x1="312.00" y1="302.38" x2="314.20" y2="302.38" stroke="#000" stroke-width="1.40" />
<line x1="312.00" y1="291.10" x2="315.60" y2="291.10" stroke="#000" stroke-width="1.40" />
<line x1="312.00" y1="279.82" x2="314.20" y2="279.82" stroke="#000" stroke-width="1.40" />
<line x1="312.00" y1="268.55" x2="315.60" y2="268.55" stroke="#000" stroke-width="1.40" />
<line x1="312.00" y1="257.27" x2="314.20" y2="257.27" stroke="#000" stroke-width="1.40" />
<line x1="312.00" y1="246.00" x2="315.60" y2="246.00" stroke="#000" stroke-width="1.40" />
<line x1="312.00" y1="234.72" x2="314.20" y2="234.72" stroke="#000" stroke-width="1.40" />
<line x1="312.00" y1="223.45" x2="315.60" y2="223.45" stroke="#000" stroke-width="1.40" />
<line x1="312.00" y1="212.18" x2="314.20" y2="212.18" stroke="#000" stroke-width="1.40" />
<line x1="312.00" y1="200.90" x2="315.60" y2="200.90" stroke="#000" stroke-width="1.40" />
<line x1="312.00" y1="189.62" x2="314.20" y2="189.62" stroke="#000" stroke-width="1.40" />
<line x1="312.00" y1="178.35" x2="315.60" y2="178.35" stroke="#000" stroke-width="1.40" />
<line x1="542.03" y1="324.90" x2="542.03" y2="322.70" stroke="#000" stroke-width="1.40" />
<line x1="557.77" y1="324.90" x2="557.77" y2="321.30" stroke="#000" stroke-width="1.40" />
<line x1="573.50" y1="324.90" x2="573.50" y2="322.70" stroke="#000" stroke-width="1.40" />
<line x1="589.23" y1="324.90" x2="589.23" y2="321.30" stroke="#000" stroke-width="1.40" />
<line x1="604.97" y1="324.90" x2="604.97" y2="322.70" stroke="#000" stroke-width="1.40" />
<line x1="620.70" y1="324.90" x2="620.70" y2="321.30" stroke="#000" stroke-width="1.40" />
<line x1="636.43" y1="324.90" x2="636.43" y2="322.70" stroke="#000" stroke-width="1.40" />
<line x1="652.17" y1="324.90" x2="652.17" y2="321.30" stroke="#000" stroke-width="1.40" />
<line x1="667.90" y1="324.90" x2="667.90" y2="322.70" stroke="#000" stroke-width="1.40" />
<line x1="683.63" y1="324.90" x2="683.63" y2="321.30" stroke="#000" stroke-width="1.40" />
<line x1="699.37" y1="324.90" x2="699.37" y2="322.70" stroke="#000" stroke-width="1.40" />
<line x1="715.10" y1="285.49" x2="712.90" y2="285.49" stroke="#000" stroke-width="1.40" />
<line x1="715.10" y1="246.07" x2="711.50" y2="246.07" stroke="#000" stroke-width="1.40" />
<line x1="715.10" y1="206.66" x2="712.90" y2="206.66" stroke="#000" stroke-width="1.40" />
<line x1="715.10" y1="167.25" x2="711.50" y2="167.25" stroke="#000" stroke-width="1.40" />
<line x1="715.10" y1="127.84" x2="712.90" y2="127.84" stroke="#000" stroke-width="1.40" />
<line x1="715.10" y1="88.42" x2="711.50" y2="88.42" stroke="#000" stroke-width="1.40" />
<line x1="715.10" y1="49.01" x2="712.90" y2="49.01" stroke="#000" stroke-width="1.40" />
<text transform="translate(54.00 342.00) scale(0.930 1)" font-size="16.90" text-anchor="middle" fill="#000" >0</text>
<text transform="translate(101.25 342.00) scale(0.930 1)" font-size="16.90" text-anchor="middle" fill="#000" >10</text>
<text transform="translate(148.50 342.00) scale(0.930 1)" font-size="16.90" text-anchor="middle" fill="#000" >20</text>
<text transform="translate(195.75 342.00) scale(0.930 1)" font-size="16.90" text-anchor="middle" fill="#000" >30</text>
<text transform="translate(243.00 342.00) scale(0.930 1)" font-size="16.90" text-anchor="middle" fill="#000" >40</text>
<text transform="translate(312.00 342.00) scale(0.930 1)" font-size="16.90" text-anchor="middle" fill="#000" >0</text>
<text transform="translate(359.25 342.00) scale(0.930 1)" font-size="16.90" text-anchor="middle" fill="#000" >10</text>
<text transform="translate(406.50 342.00) scale(0.930 1)" font-size="16.90" text-anchor="middle" fill="#000" >20</text>
<text transform="translate(453.75 342.00) scale(0.930 1)" font-size="16.90" text-anchor="middle" fill="#000" >30</text>
<text transform="translate(501.00 342.00) scale(0.930 1)" font-size="16.90" text-anchor="middle" fill="#000" >40</text>
<text transform="translate(526.30 342.00) scale(0.930 1)" font-size="16.90" text-anchor="middle" fill="#000" >-15</text>
<text transform="translate(557.77 342.00) scale(0.930 1)" font-size="16.90" text-anchor="middle" fill="#000" >-10</text>
<text transform="translate(589.23 342.00) scale(0.930 1)" font-size="16.90" text-anchor="middle" fill="#000" >-5</text>
<text transform="translate(620.70 342.00) scale(0.930 1)" font-size="16.90" text-anchor="middle" fill="#000" >0</text>
<text transform="translate(652.17 342.00) scale(0.930 1)" font-size="16.90" text-anchor="middle" fill="#000" >5</text>
<text transform="translate(683.63 342.00) scale(0.930 1)" font-size="16.90" text-anchor="middle" fill="#000" >10</text>
<text transform="translate(715.10 342.00) scale(0.930 1)" font-size="16.90" text-anchor="middle" fill="#000" >15</text>
<text transform="translate(49.40 171.70) scale(0.930 1)" font-size="16.90" text-anchor="end" fill="#000" >11</text>
<text transform="translate(49.40 119.27) scale(0.930 1)" font-size="16.90" text-anchor="end" fill="#000" >12</text>
<text transform="translate(49.40 66.83) scale(0.930 1)" font-size="16.90" text-anchor="end" fill="#000" >13</text>
<text transform="translate(49.40 14.00) scale(0.930 1)" font-size="16.90" text-anchor="end" fill="#000" >14</text>
<text transform="translate(49.40 319.10) scale(0.930 1)" font-size="16.90" text-anchor="end" fill="#000" >0</text>
<text transform="translate(49.40 276.20) scale(0.930 1)" font-size="16.90" text-anchor="end" fill="#000" >2</text>
<text transform="translate(49.40 234.50) scale(0.930 1)" font-size="16.90" text-anchor="end" fill="#000" >4</text>
<text transform="translate(49.40 192.80) scale(0.930 1)" font-size="16.90" text-anchor="end" fill="#000" >6</text>
<text transform="translate(308.20 29.68) scale(0.930 1)" font-size="16.90" text-anchor="end" fill="#000" >2</text>
<text transform="translate(308.20 64.63) scale(0.930 1)" font-size="16.90" text-anchor="end" fill="#000" >0</text>
<text transform="translate(308.20 99.59) scale(0.930 1)" font-size="16.90" text-anchor="end" fill="#000" >-2</text>
<text transform="translate(308.20 134.54) scale(0.930 1)" font-size="16.90" text-anchor="end" fill="#000" >-4</text>
<text transform="translate(308.20 169.40) scale(0.930 1)" font-size="16.90" text-anchor="end" fill="#000" >-6</text>
<text transform="translate(308.20 185.40) scale(0.930 1)" font-size="16.90" text-anchor="end" fill="#000" >30</text>
<text transform="translate(308.20 207.90) scale(0.930 1)" font-size="16.90" text-anchor="end" fill="#000" >20</text>
<text transform="translate(308.20 230.45) scale(0.930 1)" font-size="16.90" text-anchor="end" fill="#000" >10</text>
<text transform="translate(308.20 253.00) scale(0.930 1)" font-size="16.90" text-anchor="end" fill="#000" >0</text>
<text transform="translate(308.20 274.95) scale(0.930 1)" font-size="16.90" text-anchor="end" fill="#000" >-10</text>
<text transform="translate(308.20 297.50) scale(0.930 1)" font-size="16.90" text-anchor="end" fill="#000" >-20</text>
<text transform="translate(308.20 320.05) scale(0.930 1)" font-size="16.90" text-anchor="end" fill="#000" >-30</text>
<text transform="translate(719.40 15.60) scale(0.930 1)" font-size="16.90" text-anchor="start" fill="#000" >4</text>
<text transform="translate(719.40 94.42) scale(0.930 1)" font-size="16.90" text-anchor="start" fill="#000" >2</text>
<text transform="translate(719.40 173.25) scale(0.930 1)" font-size="16.90" text-anchor="start" fill="#000" >0</text>
<text transform="translate(719.40 252.07) scale(0.930 1)" font-size="16.90" text-anchor="start" fill="#000" >-2</text>
<text transform="translate(719.40 329.40) scale(0.930 1)" font-size="16.90" text-anchor="start" fill="#000" >-4</text>
<text transform="translate(149.50 362.00) scale(0.930 1)" font-size="16.50" text-anchor="middle" fill="#000" ><tspan font-style="italic">T</tspan> (K)</text>
<text transform="translate(407.50 362.00) scale(0.930 1)" font-size="16.50" text-anchor="middle" fill="#000" ><tspan font-style="italic">T</tspan> (K)</text>
<text transform="translate(621.20 363.10) scale(0.960 1)" font-size="16.30" text-anchor="middle" fill="#000" ><tspan font-style="italic">E</tspan> (kV cm<tspan font-size="10.5" dy="-6.5">-1</tspan><tspan dy="6.5">)</tspan></text>
<text transform="translate(21.90 84.60) rotate(-90) scale(1.000 1)" font-size="18.50" text-anchor="start" fill="#000"><tspan font-style="italic">ε</tspan></text>
<line x1="9.00" y1="70.90" x2="13.40" y2="70.90" stroke="#000" stroke-width="1.50" />
<text transform="translate(21.90 266.00) rotate(-90) scale(1.000 1)" font-size="18.50" text-anchor="start" fill="#000"><tspan font-style="italic">ε</tspan></text>
<line x1="8.90" y1="250.80" x2="13.20" y2="250.80" stroke="#000" stroke-width="1.40" />
<line x1="8.90" y1="253.90" x2="13.20" y2="253.90" stroke="#000" stroke-width="1.40" />
<text transform="translate(21.60 244.60) rotate(-90) scale(1.000 1)" font-size="18.30" text-anchor="start" fill="#000">(10<tspan font-size="12.5" dy="-6.5">-3</tspan><tspan dy="6.5">)</tspan></text>
<text transform="translate(277.70 111.00) rotate(-90) scale(1.000 1)" font-size="16.60" text-anchor="start" fill="#000"><tspan font-style="italic">I</tspan><tspan font-size="11" dy="3.8">p</tspan><tspan dy="-3.8"> (10</tspan><tspan font-size="11" dy="-6">-2</tspan><tspan dy="6"> pA)</tspan></text>
<text transform="translate(279.60 266.30) rotate(-90) scale(0.930 1)" font-size="16.20" text-anchor="start" fill="#000"><tspan font-style="italic">P</tspan> (uC m<tspan font-size="10.5" dy="-6.2">-2</tspan><tspan dy="6.2">)</tspan></text>
<text transform="translate(751.90 202.60) rotate(-90) scale(0.980 1)" font-size="16.00" text-anchor="start" fill="#000"><tspan font-style="italic">P</tspan> (uC m<tspan font-size="10.5" dy="-6">-2</tspan><tspan dy="6">)</tspan></text>
<text transform="translate(161.50 37.10) scale(0.940 1)" font-size="15.70" text-anchor="end" fill="#000" ><tspan font-style="italic">f</tspan> = 10 kHz</text>
<text transform="translate(161.50 55.70) scale(0.940 1)" font-size="15.70" text-anchor="end" fill="#ea2f3a" >100 kHz</text>
<text transform="translate(161.50 73.60) scale(0.940 1)" font-size="15.70" text-anchor="end" fill="#1d6fe0" >1 MHz</text>
<text x="241.60" y="28.10" font-size="16.20" text-anchor="end" fill="#000" >(a)</text>
<text x="241.60" y="185.00" font-size="16.20" text-anchor="end" fill="#000" >(b)</text>
<text x="499.30" y="28.10" font-size="16.20" text-anchor="end" fill="#000" >(c)</text>
<text x="499.30" y="183.40" font-size="16.20" text-anchor="end" fill="#000" >(d)</text>
<text x="712.50" y="28.00" font-size="16.20" text-anchor="end" fill="#000" >(e)</text>
<text x="83.40" y="146.50" font-size="15.00" text-anchor="start" fill="#000" ><tspan font-style="italic">T</tspan><tspan font-size="12" dy="-2" dx="-0.8">*</tspan></text>
<text x="158.70" y="160.00" font-size="15.00" text-anchor="start" fill="#000" ><tspan font-style="italic">T</tspan><tspan font-size="9.8" dy="4.1" dx="-1.0">FE2</tspan></text>
<text x="201.70" y="160.00" font-size="15.00" text-anchor="start" fill="#000" ><tspan font-style="italic">T</tspan><tspan font-size="9.8" dy="4.1" dx="-1.0">FE1</tspan></text>
<text x="417.70" y="185.80" font-size="15.00" text-anchor="start" fill="#000" ><tspan font-style="italic">T</tspan><tspan font-size="9.8" dy="4.1" dx="-1.0">FE2</tspan></text>
<text x="454.20" y="185.80" font-size="15.00" text-anchor="start" fill="#000" ><tspan font-style="italic">T</tspan><tspan font-size="9.8" dy="4.1" dx="-1.0">FE1</tspan></text>
<text transform="translate(324.00 29.30) scale(0.960 1)" font-size="15.20" text-anchor="start" fill="#000" ><tspan font-weight="bold">E</tspan> || c</text>
<text transform="translate(365.00 32.00) scale(0.960 1)" font-size="13.20" text-anchor="start" fill="#ff0000" >10 kV cm<tspan font-size="8.8" dy="-4.2">-1</tspan></text>
<text transform="translate(365.60 78.30) scale(0.960 1)" font-size="13.20" text-anchor="start" fill="#000" >0 kV cm<tspan font-size="8.8" dy="-4.2">-1</tspan></text>
<text transform="translate(317.30 155.30) scale(0.960 1)" font-size="13.20" text-anchor="start" fill="#0f80ff" >-10 kV cm<tspan font-size="8.8" dy="-4.2">-1</tspan></text>
<text transform="translate(321.30 222.00) scale(0.960 1)" font-size="13.20" text-anchor="start" fill="#ff0000" >10 kV cm<tspan font-size="8.8" dy="-4.2">-1</tspan></text>
<text transform="translate(318.50 287.00) scale(0.960 1)" font-size="13.20" text-anchor="start" fill="#0f80ff" >-10 kV cm<tspan font-size="8.8" dy="-4.2">-1</tspan></text>
<text transform="translate(547.30 29.30) scale(0.960 1)" font-size="15.20" text-anchor="start" fill="#000" ><tspan font-weight="bold">E</tspan> || c</text>
<text x="604.00" y="67.50" font-size="15.00" text-anchor="start" fill="#ff0000" >20 K</text>
<text x="604.00" y="149.50" font-size="15.00" text-anchor="start" fill="#000" >40 K</text>
</svg>
</body></html>
